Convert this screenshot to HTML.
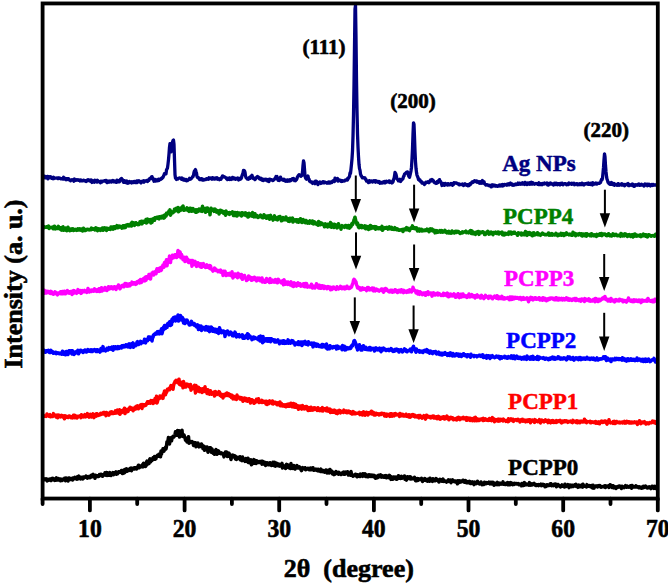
<!DOCTYPE html>
<html><head><meta charset="utf-8"><style>
html,body{margin:0;padding:0;background:#fff;}
body{width:668px;height:585px;overflow:hidden;font-family:"Liberation Serif",serif;}
svg{display:block;}
</style></head><body>
<svg width="668" height="585" viewBox="0 0 668 585">
<rect width="668" height="585" fill="#fff"/>
<defs><clipPath id="c"><rect x="42.6" y="3.45" width="615.2" height="495"/></clipPath></defs>
<g clip-path="url(#c)" fill="none" stroke-linejoin="round" stroke-linecap="round">
<path d="M43.5 479.6L44.0 479.8L44.5 479.4L45.0 478.8L45.5 479.2L46.0 478.8L46.5 479.8L47.0 480.9L47.5 479.3L48.0 479.3L48.5 480.3L49.0 480.2L49.5 480.0L50.0 479.1L50.5 479.9L51.0 480.6L51.5 478.8L52.0 479.7L52.5 478.4L53.0 479.0L53.5 478.5L54.0 479.9L54.5 479.0L55.0 480.4L55.5 480.3L56.0 479.9L56.5 477.9L57.0 479.6L57.5 480.0L58.0 480.1L58.5 478.6L59.0 479.5L59.5 479.0L60.0 479.1L60.5 480.8L61.0 479.1L61.5 479.7L62.0 480.5L62.5 479.2L63.0 479.6L63.5 479.7L64.0 479.6L64.5 478.4L65.0 479.6L65.5 480.6L66.0 478.0L66.5 480.1L67.0 479.4L67.5 478.6L68.0 481.0L68.5 479.8L69.0 478.0L69.5 479.1L70.0 479.5L70.5 478.7L71.0 479.5L71.5 478.7L72.0 479.3L72.5 480.0L73.0 478.0L73.5 478.8L74.0 478.1L74.5 478.6L75.0 477.3L75.5 477.8L76.0 478.1L76.5 479.1L77.0 479.2L77.5 476.9L78.0 477.3L78.5 478.6L79.0 476.1L79.5 477.5L80.0 477.7L80.5 478.9L81.0 478.4L81.5 477.4L82.0 477.3L82.5 477.3L83.0 478.9L83.5 477.0L84.0 477.1L84.5 477.6L85.0 477.1L85.5 477.0L86.0 476.1L86.5 477.1L87.0 476.6L87.5 478.1L88.0 477.5L88.5 476.8L89.0 477.4L89.5 476.4L90.0 477.7L90.5 476.6L91.0 477.1L91.5 475.3L92.0 476.8L92.5 474.8L93.0 474.4L93.5 476.0L94.0 475.4L94.5 476.4L95.0 478.3L95.5 475.3L96.0 475.4L96.5 476.2L97.0 476.4L97.5 475.7L98.0 475.6L98.5 476.5L99.0 476.2L99.5 474.6L100.0 475.5L100.5 475.6L101.0 474.4L101.5 475.6L102.0 474.5L102.5 476.2L103.0 475.4L103.5 475.2L104.0 474.4L104.5 474.8L105.0 472.9L105.5 473.7L106.0 475.1L106.5 472.5L107.0 475.5L107.5 472.8L108.0 475.2L108.5 473.5L109.0 475.1L109.5 474.4L110.0 472.6L110.5 475.4L111.0 475.5L111.5 473.9L112.0 473.6L112.5 473.6L113.0 472.7L113.5 474.7L114.0 472.9L114.5 473.3L115.0 472.5L115.5 472.5L116.0 471.8L116.5 474.3L117.0 472.7L117.5 473.8L118.0 472.7L118.5 471.9L119.0 472.2L119.5 471.8L120.0 472.3L120.5 471.8L121.0 471.8L121.5 470.5L122.0 471.0L122.5 473.6L123.0 471.0L123.5 470.4L124.0 471.8L124.5 472.8L125.0 469.6L125.5 470.8L126.0 470.2L126.5 468.8L127.0 471.4L127.5 470.4L128.0 470.4L128.5 469.3L129.0 470.5L129.5 469.2L130.0 469.5L130.5 468.3L131.0 468.0L131.5 470.7L132.0 468.5L132.5 469.2L133.0 468.7L133.5 468.1L134.0 467.9L134.5 469.0L135.0 467.8L135.5 467.8L136.0 467.8L136.5 469.0L137.0 468.2L137.5 467.7L138.0 466.3L138.5 465.2L139.0 467.8L139.5 467.6L140.0 466.0L140.5 466.7L141.0 466.8L141.5 466.6L142.0 466.6L142.5 464.7L143.0 466.9L143.5 463.3L144.0 465.7L144.5 465.0L145.0 465.3L145.5 466.4L146.0 465.7L146.5 462.1L147.0 461.2L147.5 464.2L148.0 461.6L148.5 462.6L149.0 463.4L149.5 459.9L150.0 458.9L150.5 461.8L151.0 461.2L151.5 460.5L152.0 460.5L152.5 459.0L153.0 457.8L153.5 459.3L154.0 457.9L154.5 456.6L155.0 459.3L155.5 458.2L156.0 458.5L156.5 456.2L157.0 456.2L157.5 455.3L158.0 455.0L158.5 456.1L159.0 454.2L159.5 455.4L160.0 454.8L160.5 456.8L161.0 451.1L161.5 454.1L162.0 452.0L162.5 451.6L163.0 448.8L163.5 449.8L164.0 451.1L164.5 449.1L165.0 448.7L165.5 447.4L166.0 449.0L166.5 446.3L167.0 441.8L167.5 443.6L168.0 440.5L168.5 437.4L169.0 441.4L169.5 444.0L170.0 441.0L170.5 438.0L171.0 437.7L171.5 440.8L172.0 438.3L172.5 437.4L173.0 436.5L173.5 436.0L174.0 436.9L174.5 435.8L175.0 434.6L175.5 431.7L176.0 434.4L176.5 431.8L177.0 435.2L177.5 430.4L178.0 432.7L178.5 433.1L179.0 430.7L179.5 437.0L180.0 436.8L180.5 433.3L181.0 436.1L181.5 435.6L182.0 430.2L182.5 436.2L183.0 436.0L183.5 436.7L184.0 434.9L184.5 436.8L185.0 437.4L185.5 440.3L186.0 439.1L186.5 438.8L187.0 442.0L187.5 438.4L188.0 439.0L188.5 436.7L189.0 443.2L189.5 442.4L190.0 442.6L190.5 442.4L191.0 441.7L191.5 442.1L192.0 441.6L192.5 441.9L193.0 442.7L193.5 445.5L194.0 444.1L194.5 443.2L195.0 442.6L195.5 442.7L196.0 446.8L196.5 445.2L197.0 444.6L197.5 444.1L198.0 443.1L198.5 445.1L199.0 446.9L199.5 445.0L200.0 445.5L200.5 445.7L201.0 446.5L201.5 443.9L202.0 446.3L202.5 445.5L203.0 448.6L203.5 446.0L204.0 448.5L204.5 450.2L205.0 447.4L205.5 447.1L206.0 448.5L206.5 448.4L207.0 447.0L207.5 449.5L208.0 452.2L208.5 448.7L209.0 449.0L209.5 447.8L210.0 450.2L210.5 447.8L211.0 448.3L211.5 452.2L212.0 448.9L212.5 452.3L213.0 453.1L213.5 451.3L214.0 451.9L214.5 454.3L215.0 451.1L215.5 450.6L216.0 449.6L216.5 451.9L217.0 454.3L217.5 453.6L218.0 450.8L218.5 451.1L219.0 451.8L219.5 453.2L220.0 452.6L220.5 453.4L221.0 453.7L221.5 452.9L222.0 453.4L222.5 454.0L223.0 453.7L223.5 454.7L224.0 456.9L224.5 455.1L225.0 454.5L225.5 452.0L226.0 455.3L226.5 452.0L227.0 452.9L227.5 456.4L228.0 456.3L228.5 455.2L229.0 453.1L229.5 455.2L230.0 454.9L230.5 457.0L231.0 459.5L231.5 456.7L232.0 455.4L232.5 455.0L233.0 456.7L233.5 456.7L234.0 455.5L234.5 457.4L235.0 455.8L235.5 459.1L236.0 459.2L236.5 459.4L237.0 457.3L237.5 458.9L238.0 458.1L238.5 457.9L239.0 458.1L239.5 456.9L240.0 456.8L240.5 460.0L241.0 458.8L241.5 459.4L242.0 460.6L242.5 457.0L243.0 458.4L243.5 459.9L244.0 460.3L244.5 459.4L245.0 461.4L245.5 460.4L246.0 458.6L246.5 459.1L247.0 461.6L247.5 461.2L248.0 458.2L248.5 462.6L249.0 461.7L249.5 462.8L250.0 460.6L250.5 460.9L251.0 459.8L251.5 464.8L252.0 461.3L252.5 463.7L253.0 460.8L253.5 462.0L254.0 459.6L254.5 461.4L255.0 463.3L255.5 460.4L256.0 463.6L256.5 462.7L257.0 460.9L257.5 461.7L258.0 461.9L258.5 462.5L259.0 461.9L259.5 461.6L260.0 462.4L260.5 461.5L261.0 461.3L261.5 462.9L262.0 464.2L262.5 461.2L263.0 463.2L263.5 462.5L264.0 462.1L264.5 464.5L265.0 462.8L265.5 465.5L266.0 462.6L266.5 464.2L267.0 463.4L267.5 462.8L268.0 464.6L268.5 463.7L269.0 464.8L269.5 464.0L270.0 462.7L270.5 464.1L271.0 464.3L271.5 465.5L272.0 463.2L272.5 464.4L273.0 462.3L273.5 465.4L274.0 463.3L274.5 462.4L275.0 464.7L275.5 466.2L276.0 463.0L276.5 463.6L277.0 464.1L277.5 463.7L278.0 465.6L278.5 464.2L279.0 464.4L279.5 466.1L280.0 464.5L280.5 466.0L281.0 464.4L281.5 464.1L282.0 463.4L282.5 468.0L283.0 465.4L283.5 466.2L284.0 465.9L284.5 466.2L285.0 466.2L285.5 468.5L286.0 465.0L286.5 464.4L287.0 465.1L287.5 464.8L288.0 467.4L288.5 467.6L289.0 465.5L289.5 465.1L290.0 466.4L290.5 468.5L291.0 463.6L291.5 467.6L292.0 465.8L292.5 468.4L293.0 465.9L293.5 467.0L294.0 465.6L294.5 466.3L295.0 469.1L295.5 468.5L296.0 467.2L296.5 466.7L297.0 465.6L297.5 467.4L298.0 467.9L298.5 467.9L299.0 468.0L299.5 466.8L300.0 468.1L300.5 468.2L301.0 469.8L301.5 470.6L302.0 468.3L302.5 467.7L303.0 468.6L303.5 468.0L304.0 467.9L304.5 468.8L305.0 467.7L305.5 469.7L306.0 468.9L306.5 469.4L307.0 469.0L307.5 468.4L308.0 468.3L308.5 469.1L309.0 468.9L309.5 469.8L310.0 469.6L310.5 468.1L311.0 469.8L311.5 468.3L312.0 469.2L312.5 469.6L313.0 467.7L313.5 470.1L314.0 470.3L314.5 470.0L315.0 469.7L315.5 469.9L316.0 469.2L316.5 470.1L317.0 469.8L317.5 470.6L318.0 469.2L318.5 470.9L319.0 470.8L319.5 470.6L320.0 470.3L320.5 471.5L321.0 469.1L321.5 471.5L322.0 471.3L322.5 471.4L323.0 471.6L323.5 470.5L324.0 471.0L324.5 472.1L325.0 471.9L325.5 471.8L326.0 470.0L326.5 472.3L327.0 473.0L327.5 472.9L328.0 472.1L328.5 470.3L329.0 473.0L329.5 471.9L330.0 469.5L330.5 472.6L331.0 470.7L331.5 471.0L332.0 471.8L332.5 473.9L333.0 472.2L333.5 472.9L334.0 474.6L334.5 474.4L335.0 472.7L335.5 472.6L336.0 471.6L336.5 472.3L337.0 473.5L337.5 473.5L338.0 473.2L338.5 474.2L339.0 472.4L339.5 473.2L340.0 474.1L340.5 474.0L341.0 474.5L341.5 473.9L342.0 473.2L342.5 474.0L343.0 472.6L343.5 472.0L344.0 474.3L344.5 473.7L345.0 474.1L345.5 472.1L346.0 473.5L346.5 473.3L347.0 473.1L347.5 471.7L348.0 473.7L348.5 475.0L349.0 474.6L349.5 473.6L350.0 474.2L350.5 475.1L351.0 471.5L351.5 474.2L352.0 475.0L352.5 475.1L353.0 476.2L353.5 475.7L354.0 474.9L354.5 474.9L355.0 475.5L355.5 474.2L356.0 474.7L356.5 475.7L357.0 476.8L357.5 474.7L358.0 474.9L358.5 475.1L359.0 476.3L359.5 475.0L360.0 476.5L360.5 474.1L361.0 475.0L361.5 475.0L362.0 476.0L362.5 476.3L363.0 473.8L363.5 474.4L364.0 475.7L364.5 474.8L365.0 473.9L365.5 476.5L366.0 476.0L366.5 476.0L367.0 475.1L367.5 476.6L368.0 475.4L368.5 476.7L369.0 474.8L369.5 474.9L370.0 476.0L370.5 475.1L371.0 476.5L371.5 476.1L372.0 475.0L372.5 476.0L373.0 475.6L373.5 476.8L374.0 475.4L374.5 475.6L375.0 477.2L375.5 478.3L376.0 478.0L376.5 476.2L377.0 476.4L377.5 477.7L378.0 476.1L378.5 475.3L379.0 476.4L379.5 476.7L380.0 475.5L380.5 474.8L381.0 475.0L381.5 477.1L382.0 475.7L382.5 476.3L383.0 476.7L383.5 477.1L384.0 476.2L384.5 477.1L385.0 475.8L385.5 476.3L386.0 475.7L386.5 477.8L387.0 476.7L387.5 476.1L388.0 476.5L388.5 476.6L389.0 477.6L389.5 475.4L390.0 476.0L390.5 476.6L391.0 479.4L391.5 478.0L392.0 477.0L392.5 477.8L393.0 479.1L393.5 477.0L394.0 476.9L394.5 478.5L395.0 477.8L395.5 478.0L396.0 477.0L396.5 479.3L397.0 479.1L397.5 478.1L398.0 478.2L398.5 475.7L399.0 478.3L399.5 477.5L400.0 478.2L400.5 478.4L401.0 477.5L401.5 476.3L402.0 478.3L402.5 477.3L403.0 477.7L403.5 477.5L404.0 477.8L404.5 476.0L405.0 479.3L405.5 478.4L406.0 479.3L406.5 480.1L407.0 478.3L407.5 476.7L408.0 477.6L408.5 477.3L409.0 478.0L409.5 478.6L410.0 476.7L410.5 478.9L411.0 477.2L411.5 478.9L412.0 478.6L412.5 478.5L413.0 478.7L413.5 478.3L414.0 478.3L414.5 477.4L415.0 478.9L415.5 480.6L416.0 480.8L416.5 480.2L417.0 479.7L417.5 478.5L418.0 480.4L418.5 479.1L419.0 479.1L419.5 479.0L420.0 479.4L420.5 478.9L421.0 479.3L421.5 478.4L422.0 479.1L422.5 481.5L423.0 479.4L423.5 479.3L424.0 480.0L424.5 480.2L425.0 478.6L425.5 479.5L426.0 480.5L426.5 480.0L427.0 479.9L427.5 481.2L428.0 479.2L428.5 480.0L429.0 479.5L429.5 481.3L430.0 478.3L430.5 479.4L431.0 479.6L431.5 480.7L432.0 480.7L432.5 481.4L433.0 478.8L433.5 480.9L434.0 480.0L434.5 479.7L435.0 480.8L435.5 479.6L436.0 478.6L436.5 480.1L437.0 479.2L437.5 479.9L438.0 480.9L438.5 480.8L439.0 482.0L439.5 480.4L440.0 479.3L440.5 480.0L441.0 479.9L441.5 479.7L442.0 481.1L442.5 480.2L443.0 479.1L443.5 481.4L444.0 480.8L444.5 481.2L445.0 481.0L445.5 481.5L446.0 481.0L446.5 482.1L447.0 481.4L447.5 481.4L448.0 481.5L448.5 479.9L449.0 481.0L449.5 481.0L450.0 481.4L450.5 480.1L451.0 482.7L451.5 481.4L452.0 480.3L452.5 479.9L453.0 481.2L453.5 481.4L454.0 480.9L454.5 481.6L455.0 481.0L455.5 482.0L456.0 481.0L456.5 481.6L457.0 482.5L457.5 483.8L458.0 480.8L458.5 481.3L459.0 481.0L459.5 482.4L460.0 480.8L460.5 481.4L461.0 481.8L461.5 481.1L462.0 481.1L462.5 481.5L463.0 480.2L463.5 480.8L464.0 481.7L464.5 482.2L465.0 481.9L465.5 480.6L466.0 481.7L466.5 482.8L467.0 482.6L467.5 482.1L468.0 481.5L468.5 482.8L469.0 481.8L469.5 481.3L470.0 481.7L470.5 483.5L471.0 482.5L471.5 483.3L472.0 482.0L472.5 483.2L473.0 482.0L473.5 482.4L474.0 484.6L474.5 483.2L475.0 482.2L475.5 482.5L476.0 482.9L476.5 483.6L477.0 482.3L477.5 481.3L478.0 482.5L478.5 482.8L479.0 482.9L479.5 483.9L480.0 483.1L480.5 483.5L481.0 482.0L481.5 483.6L482.0 484.6L482.5 483.6L483.0 483.2L483.5 483.1L484.0 484.4L484.5 482.3L485.0 482.9L485.5 483.4L486.0 483.7L486.5 482.7L487.0 483.3L487.5 482.9L488.0 483.2L488.5 483.0L489.0 482.2L489.5 483.2L490.0 483.9L490.5 482.4L491.0 483.0L491.5 483.8L492.0 482.4L492.5 483.4L493.0 482.4L493.5 484.2L494.0 485.2L494.5 484.9L495.0 483.2L495.5 484.0L496.0 483.5L496.5 483.5L497.0 484.6L497.5 482.4L498.0 484.3L498.5 483.4L499.0 484.6L499.5 483.6L500.0 483.0L500.5 483.7L501.0 484.1L501.5 483.6L502.0 483.9L502.5 483.1L503.0 481.9L503.5 484.3L504.0 484.2L504.5 483.7L505.0 483.7L505.5 484.5L506.0 483.3L506.5 483.1L507.0 483.5L507.5 484.6L508.0 482.6L508.5 484.6L509.0 483.2L509.5 482.9L510.0 484.7L510.5 483.7L511.0 482.7L511.5 483.5L512.0 484.5L512.5 484.7L513.0 483.5L513.5 484.1L514.0 484.4L514.5 483.3L515.0 484.1L515.5 483.8L516.0 483.5L516.5 483.5L517.0 484.0L517.5 483.9L518.0 483.5L518.5 483.6L519.0 484.8L519.5 484.1L520.0 484.7L520.5 484.9L521.0 484.5L521.5 485.8L522.0 483.4L522.5 484.7L523.0 483.8L523.5 485.5L524.0 485.4L524.5 482.6L525.0 483.4L525.5 484.7L526.0 484.8L526.5 484.8L527.0 484.1L527.5 484.6L528.0 484.8L528.5 484.2L529.0 485.1L529.5 482.6L530.0 484.8L530.5 483.6L531.0 485.2L531.5 484.3L532.0 483.8L532.5 484.8L533.0 483.8L533.5 483.8L534.0 483.4L534.5 484.6L535.0 485.0L535.5 485.4L536.0 484.6L536.5 485.5L537.0 484.7L537.5 484.7L538.0 485.2L538.5 485.6L539.0 484.6L539.5 484.7L540.0 484.7L540.5 485.0L541.0 484.2L541.5 485.7L542.0 484.7L542.5 485.4L543.0 484.4L543.5 485.3L544.0 485.4L544.5 484.8L545.0 486.7L545.5 485.4L546.0 486.5L546.5 485.9L547.0 484.7L547.5 485.0L548.0 485.6L548.5 485.4L549.0 485.4L549.5 485.1L550.0 484.0L550.5 485.2L551.0 483.7L551.5 485.7L552.0 484.9L552.5 484.9L553.0 485.3L553.5 485.7L554.0 484.4L554.5 484.2L555.0 484.7L555.5 484.0L556.0 484.8L556.5 486.7L557.0 484.7L557.5 486.0L558.0 484.5L558.5 485.8L559.0 485.3L559.5 485.5L560.0 486.0L560.5 486.9L561.0 485.8L561.5 485.7L562.0 484.9L562.5 486.1L563.0 485.5L563.5 486.3L564.0 485.6L564.5 487.0L565.0 484.2L565.5 485.5L566.0 486.4L566.5 485.5L567.0 485.1L567.5 485.5L568.0 484.7L568.5 485.8L569.0 487.6L569.5 486.6L570.0 485.0L570.5 485.2L571.0 485.5L571.5 486.6L572.0 485.2L572.5 485.3L573.0 486.5L573.5 486.5L574.0 485.6L574.5 485.1L575.0 484.7L575.5 485.4L576.0 484.3L576.5 486.5L577.0 485.5L577.5 486.3L578.0 487.3L578.5 486.8L579.0 485.1L579.5 486.6L580.0 486.8L580.5 485.5L581.0 485.3L581.5 485.9L582.0 484.9L582.5 487.1L583.0 484.3L583.5 485.2L584.0 485.9L584.5 485.9L585.0 486.2L585.5 486.3L586.0 486.0L586.5 487.0L587.0 484.6L587.5 486.1L588.0 485.6L588.5 486.3L589.0 486.3L589.5 485.5L590.0 485.7L590.5 486.8L591.0 486.5L591.5 485.7L592.0 487.7L592.5 487.9L593.0 485.2L593.5 486.5L594.0 488.1L594.5 486.8L595.0 486.4L595.5 486.1L596.0 485.9L596.5 486.2L597.0 485.9L597.5 486.9L598.0 486.1L598.5 486.0L599.0 485.5L599.5 486.3L600.0 485.7L600.5 486.3L601.0 487.2L601.5 486.7L602.0 486.8L602.5 486.7L603.0 486.5L603.5 486.4L604.0 486.2L604.5 487.0L605.0 485.7L605.5 487.5L606.0 486.5L606.5 486.0L607.0 486.2L607.5 486.0L608.0 486.7L608.5 486.0L609.0 487.4L609.5 486.0L610.0 484.9L610.5 486.1L611.0 485.2L611.5 486.6L612.0 487.4L612.5 487.1L613.0 485.7L613.5 486.1L614.0 487.9L614.5 486.9L615.0 486.7L615.5 487.5L616.0 488.5L616.5 487.6L617.0 486.8L617.5 487.0L618.0 487.2L618.5 486.3L619.0 486.0L619.5 486.8L620.0 486.1L620.5 486.8L621.0 486.9L621.5 488.5L622.0 486.2L622.5 486.7L623.0 486.7L623.5 487.2L624.0 487.6L624.5 486.5L625.0 486.3L625.5 485.7L626.0 486.2L626.5 487.3L627.0 487.0L627.5 486.2L628.0 486.7L628.5 487.0L629.0 487.3L629.5 486.6L630.0 486.8L630.5 485.7L631.0 486.2L631.5 488.2L632.0 485.5L632.5 486.8L633.0 487.2L633.5 486.8L634.0 486.5L634.5 487.0L635.0 487.1L635.5 487.0L636.0 485.8L636.5 487.0L637.0 486.5L637.5 486.7L638.0 487.3L638.5 487.6L639.0 487.8L639.5 486.8L640.0 487.8L640.5 488.0L641.0 488.0L641.5 488.2L642.0 487.1L642.5 487.1L643.0 487.8L643.5 486.3L644.0 487.4L644.5 486.9L645.0 487.0L645.5 486.1L646.0 486.7L646.5 487.3L647.0 487.9L647.5 488.0L648.0 487.3L648.5 487.2L649.0 486.8L649.5 487.7L650.0 487.2L650.5 487.8L651.0 488.6L651.5 487.4L652.0 486.4L652.5 486.8L653.0 486.4L653.5 486.6L654.0 488.4L654.5 487.6L655.0 486.4L655.5 487.9L656.0 488.4L656.5 487.2L657.0 487.0L657.5 487.2" stroke="#000000" stroke-width="3.5"/>
<path d="M43.5 415.4L44.0 415.8L44.5 416.3L45.0 416.3L45.5 416.3L46.0 416.5L46.5 415.9L47.0 414.0L47.5 415.3L48.0 415.7L48.5 415.1L49.0 416.3L49.5 415.2L50.0 414.7L50.5 416.8L51.0 416.2L51.5 415.8L52.0 416.5L52.5 416.6L53.0 416.0L53.5 413.6L54.0 415.2L54.5 415.4L55.0 415.0L55.5 416.0L56.0 416.9L56.5 415.5L57.0 415.0L57.5 417.8L58.0 415.6L58.5 415.0L59.0 416.3L59.5 416.5L60.0 415.5L60.5 416.9L61.0 415.8L61.5 415.4L62.0 416.4L62.5 417.0L63.0 415.8L63.5 416.6L64.0 416.3L64.5 418.8L65.0 415.8L65.5 417.6L66.0 416.4L66.5 416.3L67.0 417.0L67.5 417.2L68.0 417.5L68.5 416.7L69.0 415.9L69.5 416.0L70.0 416.9L70.5 417.0L71.0 417.7L71.5 416.8L72.0 417.4L72.5 417.8L73.0 416.6L73.5 415.2L74.0 415.5L74.5 415.3L75.0 417.8L75.5 415.7L76.0 417.5L76.5 417.0L77.0 417.9L77.5 417.3L78.0 416.3L78.5 416.2L79.0 416.4L79.5 416.4L80.0 415.8L80.5 416.2L81.0 417.6L81.5 414.7L82.0 416.4L82.5 415.3L83.0 416.3L83.5 416.8L84.0 416.0L84.5 416.7L85.0 414.6L85.5 416.9L86.0 415.4L86.5 416.4L87.0 416.0L87.5 413.6L88.0 415.1L88.5 415.9L89.0 417.1L89.5 415.9L90.0 415.8L90.5 414.3L91.0 416.8L91.5 417.0L92.0 415.4L92.5 415.2L93.0 413.9L93.5 416.0L94.0 417.6L94.5 415.8L95.0 416.2L95.5 415.5L96.0 414.1L96.5 416.1L97.0 413.8L97.5 414.7L98.0 415.1L98.5 415.5L99.0 415.1L99.5 415.0L100.0 413.9L100.5 413.4L101.0 414.5L101.5 413.8L102.0 413.2L102.5 413.2L103.0 413.8L103.5 412.5L104.0 412.9L104.5 412.6L105.0 414.2L105.5 414.3L106.0 415.7L106.5 412.5L107.0 413.2L107.5 414.6L108.0 413.5L108.5 413.3L109.0 415.1L109.5 413.2L110.0 412.4L110.5 412.1L111.0 413.6L111.5 413.5L112.0 411.9L112.5 412.2L113.0 413.5L113.5 413.5L114.0 412.2L114.5 413.3L115.0 413.2L115.5 410.9L116.0 412.2L116.5 412.8L117.0 411.7L117.5 410.1L118.0 411.8L118.5 412.7L119.0 413.4L119.5 409.7L120.0 414.3L120.5 410.5L121.0 412.5L121.5 412.7L122.0 412.3L122.5 411.4L123.0 410.0L123.5 411.7L124.0 410.2L124.5 408.3L125.0 413.6L125.5 411.3L126.0 412.3L126.5 409.4L127.0 411.7L127.5 411.7L128.0 411.5L128.5 409.8L129.0 408.5L129.5 409.4L130.0 407.2L130.5 407.5L131.0 409.3L131.5 408.0L132.0 408.7L132.5 408.7L133.0 410.7L133.5 409.9L134.0 408.3L134.5 409.5L135.0 407.3L135.5 407.6L136.0 408.8L136.5 406.3L137.0 407.2L137.5 405.9L138.0 407.3L138.5 408.8L139.0 406.0L139.5 406.9L140.0 405.5L140.5 405.0L141.0 404.7L141.5 407.6L142.0 408.4L142.5 406.2L143.0 404.6L143.5 406.1L144.0 404.7L144.5 405.8L145.0 405.1L145.5 404.9L146.0 405.1L146.5 403.6L147.0 403.6L147.5 401.8L148.0 403.1L148.5 401.8L149.0 403.1L149.5 401.9L150.0 402.9L150.5 403.1L151.0 400.6L151.5 401.1L152.0 400.7L152.5 402.6L153.0 403.5L153.5 402.2L154.0 400.5L154.5 402.6L155.0 398.6L155.5 402.2L156.0 399.2L156.5 396.3L157.0 403.0L157.5 401.4L158.0 397.8L158.5 399.1L159.0 398.3L159.5 398.4L160.0 395.9L160.5 396.6L161.0 397.7L161.5 396.9L162.0 397.8L162.5 395.8L163.0 398.4L163.5 393.7L164.0 394.6L164.5 391.0L165.0 391.4L165.5 394.7L166.0 390.9L166.5 392.5L167.0 391.1L167.5 389.2L168.0 389.7L168.5 388.9L169.0 388.4L169.5 389.8L170.0 389.1L170.5 386.6L171.0 385.5L171.5 386.9L172.0 385.7L172.5 387.0L173.0 389.2L173.5 385.7L174.0 383.8L174.5 383.0L175.0 381.4L175.5 380.9L176.0 380.3L176.5 381.0L177.0 380.7L177.5 382.6L178.0 380.5L178.5 380.9L179.0 379.2L179.5 384.3L180.0 382.5L180.5 385.0L181.0 383.5L181.5 385.0L182.0 382.3L182.5 384.2L183.0 387.8L183.5 381.5L184.0 385.8L184.5 386.9L185.0 385.1L185.5 385.9L186.0 387.0L186.5 384.1L187.0 386.1L187.5 384.3L188.0 384.8L188.5 385.1L189.0 386.1L189.5 386.8L190.0 387.4L190.5 384.5L191.0 390.2L191.5 389.0L192.0 388.4L192.5 386.8L193.0 387.4L193.5 388.6L194.0 388.5L194.5 385.2L195.0 389.3L195.5 392.9L196.0 385.4L196.5 390.1L197.0 389.2L197.5 388.6L198.0 391.1L198.5 387.2L199.0 389.4L199.5 391.6L200.0 389.1L200.5 388.9L201.0 389.9L201.5 389.2L202.0 392.4L202.5 388.7L203.0 391.6L203.5 388.4L204.0 391.5L204.5 390.5L205.0 386.8L205.5 390.9L206.0 389.4L206.5 390.4L207.0 393.6L207.5 389.7L208.0 389.9L208.5 393.8L209.0 391.9L209.5 394.2L210.0 392.5L210.5 390.8L211.0 392.2L211.5 394.2L212.0 393.9L212.5 392.6L213.0 392.8L213.5 392.7L214.0 392.1L214.5 395.9L215.0 393.2L215.5 391.6L216.0 392.7L216.5 394.6L217.0 394.5L217.5 393.5L218.0 392.8L218.5 393.9L219.0 391.6L219.5 392.2L220.0 395.4L220.5 393.6L221.0 394.9L221.5 396.3L222.0 395.5L222.5 394.7L223.0 397.9L223.5 395.9L224.0 394.5L224.5 396.1L225.0 395.8L225.5 394.1L226.0 395.5L226.5 395.3L227.0 392.9L227.5 395.5L228.0 395.5L228.5 395.4L229.0 393.8L229.5 395.7L230.0 396.3L230.5 396.6L231.0 395.0L231.5 397.6L232.0 395.2L232.5 396.7L233.0 398.9L233.5 396.3L234.0 396.6L234.5 398.9L235.0 397.1L235.5 397.3L236.0 398.1L236.5 399.4L237.0 395.1L237.5 397.0L238.0 396.9L238.5 396.9L239.0 397.3L239.5 397.4L240.0 399.0L240.5 397.5L241.0 398.9L241.5 399.4L242.0 398.0L242.5 399.2L243.0 401.3L243.5 399.6L244.0 398.4L244.5 399.2L245.0 398.2L245.5 399.8L246.0 400.7L246.5 398.6L247.0 399.5L247.5 401.3L248.0 399.2L248.5 400.2L249.0 398.7L249.5 399.1L250.0 399.5L250.5 403.0L251.0 399.8L251.5 399.7L252.0 399.8L252.5 400.3L253.0 401.4L253.5 400.9L254.0 403.3L254.5 401.1L255.0 402.7L255.5 401.3L256.0 401.8L256.5 399.3L257.0 401.0L257.5 401.2L258.0 401.0L258.5 398.8L259.0 402.6L259.5 401.1L260.0 401.1L260.5 401.4L261.0 401.5L261.5 402.3L262.0 400.4L262.5 400.8L263.0 402.4L263.5 402.3L264.0 401.7L264.5 401.6L265.0 401.3L265.5 402.3L266.0 403.9L266.5 401.3L267.0 404.5L267.5 403.7L268.0 402.2L268.5 403.8L269.0 401.2L269.5 400.9L270.0 401.5L270.5 402.6L271.0 402.8L271.5 402.7L272.0 403.5L272.5 400.9L273.0 404.1L273.5 401.9L274.0 402.8L274.5 403.2L275.0 402.4L275.5 402.2L276.0 402.7L276.5 403.9L277.0 404.7L277.5 404.7L278.0 402.9L278.5 403.2L279.0 403.1L279.5 404.8L280.0 402.0L280.5 405.8L281.0 403.9L281.5 403.6L282.0 404.9L282.5 405.8L283.0 405.1L283.5 405.9L284.0 404.9L284.5 406.3L285.0 406.3L285.5 404.9L286.0 406.7L286.5 405.3L287.0 405.3L287.5 404.2L288.0 405.0L288.5 406.3L289.0 404.0L289.5 406.3L290.0 406.0L290.5 406.0L291.0 403.3L291.5 405.7L292.0 406.6L292.5 405.1L293.0 406.1L293.5 403.4L294.0 406.9L294.5 405.5L295.0 407.3L295.5 404.3L296.0 407.2L296.5 406.3L297.0 407.5L297.5 405.6L298.0 406.0L298.5 409.3L299.0 406.0L299.5 406.2L300.0 406.7L300.5 406.0L301.0 408.4L301.5 409.1L302.0 406.5L302.5 405.5L303.0 408.7L303.5 408.7L304.0 408.5L304.5 408.9L305.0 406.8L305.5 407.6L306.0 406.4L306.5 406.4L307.0 409.1L307.5 407.4L308.0 410.6L308.5 408.3L309.0 407.6L309.5 409.2L310.0 410.3L310.5 409.0L311.0 407.3L311.5 409.0L312.0 410.1L312.5 408.2L313.0 408.0L313.5 409.9L314.0 409.0L314.5 407.8L315.0 408.6L315.5 408.3L316.0 409.4L316.5 409.3L317.0 410.4L317.5 410.0L318.0 407.7L318.5 409.8L319.0 410.4L319.5 410.0L320.0 410.7L320.5 409.1L321.0 408.7L321.5 410.7L322.0 408.7L322.5 407.7L323.0 411.0L323.5 409.2L324.0 409.7L324.5 408.7L325.0 408.8L325.5 409.0L326.0 409.9L326.5 410.7L327.0 408.0L327.5 411.1L328.0 409.2L328.5 409.4L329.0 411.2L329.5 410.5L330.0 409.1L330.5 412.5L331.0 409.9L331.5 411.0L332.0 411.0L332.5 412.3L333.0 410.5L333.5 412.0L334.0 410.3L334.5 412.2L335.0 410.4L335.5 410.8L336.0 413.1L336.5 411.6L337.0 411.4L337.5 413.6L338.0 411.8L338.5 410.7L339.0 412.2L339.5 410.4L340.0 412.7L340.5 412.9L341.0 411.2L341.5 411.2L342.0 412.0L342.5 411.9L343.0 411.0L343.5 412.5L344.0 410.1L344.5 411.7L345.0 411.7L345.5 411.9L346.0 412.5L346.5 411.0L347.0 412.8L347.5 412.1L348.0 411.7L348.5 411.0L349.0 411.2L349.5 412.7L350.0 411.5L350.5 412.5L351.0 413.5L351.5 413.5L352.0 414.0L352.5 412.3L353.0 411.5L353.5 413.6L354.0 412.9L354.5 413.7L355.0 412.7L355.5 413.8L356.0 413.5L356.5 413.4L357.0 413.3L357.5 413.2L358.0 413.0L358.5 413.1L359.0 413.8L359.5 412.4L360.0 414.6L360.5 412.9L361.0 413.9L361.5 412.9L362.0 412.8L362.5 415.0L363.0 412.8L363.5 411.9L364.0 412.5L364.5 412.9L365.0 415.2L365.5 413.4L366.0 414.1L366.5 412.3L367.0 413.6L367.5 413.9L368.0 415.0L368.5 412.7L369.0 413.9L369.5 413.7L370.0 412.5L370.5 413.4L371.0 413.2L371.5 411.3L372.0 414.1L372.5 414.1L373.0 413.2L373.5 412.4L374.0 415.0L374.5 413.9L375.0 414.6L375.5 415.0L376.0 413.3L376.5 414.5L377.0 413.6L377.5 413.8L378.0 413.8L378.5 413.9L379.0 414.9L379.5 414.0L380.0 413.8L380.5 413.7L381.0 414.3L381.5 413.2L382.0 413.6L382.5 414.0L383.0 413.6L383.5 414.0L384.0 413.6L384.5 416.0L385.0 415.4L385.5 414.6L386.0 414.2L386.5 416.3L387.0 414.6L387.5 414.2L388.0 414.6L388.5 414.7L389.0 415.7L389.5 414.4L390.0 416.4L390.5 413.7L391.0 415.2L391.5 413.7L392.0 416.2L392.5 414.3L393.0 414.6L393.5 415.5L394.0 415.9L394.5 413.8L395.0 414.5L395.5 413.6L396.0 415.0L396.5 414.8L397.0 414.6L397.5 414.4L398.0 414.7L398.5 414.4L399.0 415.5L399.5 416.5L400.0 413.4L400.5 415.1L401.0 414.8L401.5 415.7L402.0 414.4L402.5 415.2L403.0 414.4L403.5 416.0L404.0 415.5L404.5 415.3L405.0 415.8L405.5 415.3L406.0 414.2L406.5 416.1L407.0 415.9L407.5 415.5L408.0 416.5L408.5 416.8L409.0 414.8L409.5 415.1L410.0 417.2L410.5 417.1L411.0 415.2L411.5 414.9L412.0 415.4L412.5 415.6L413.0 414.6L413.5 416.1L414.0 415.0L414.5 415.1L415.0 416.9L415.5 415.6L416.0 416.2L416.5 416.8L417.0 417.0L417.5 416.0L418.0 416.4L418.5 415.7L419.0 417.9L419.5 417.0L420.0 415.5L420.5 416.5L421.0 417.2L421.5 417.0L422.0 418.2L422.5 417.8L423.0 416.2L423.5 416.6L424.0 415.7L424.5 417.0L425.0 417.0L425.5 419.1L426.0 417.0L426.5 415.2L427.0 416.4L427.5 417.1L428.0 416.0L428.5 416.3L429.0 416.8L429.5 417.4L430.0 417.0L430.5 416.5L431.0 417.9L431.5 416.8L432.0 416.9L432.5 416.2L433.0 416.7L433.5 417.9L434.0 416.1L434.5 417.4L435.0 418.1L435.5 417.2L436.0 417.8L436.5 416.7L437.0 418.7L437.5 418.6L438.0 417.9L438.5 416.3L439.0 416.9L439.5 418.6L440.0 419.2L440.5 418.0L441.0 418.8L441.5 417.3L442.0 417.7L442.5 417.9L443.0 418.2L443.5 416.7L444.0 418.7L444.5 419.0L445.0 417.0L445.5 416.9L446.0 418.3L446.5 417.5L447.0 416.1L447.5 418.7L448.0 418.2L448.5 417.7L449.0 419.8L449.5 418.3L450.0 417.6L450.5 418.3L451.0 417.4L451.5 417.6L452.0 418.6L452.5 417.8L453.0 417.9L453.5 419.7L454.0 419.0L454.5 419.0L455.0 418.8L455.5 418.8L456.0 419.6L456.5 418.4L457.0 419.9L457.5 417.7L458.0 418.3L458.5 417.4L459.0 418.2L459.5 419.0L460.0 419.7L460.5 418.0L461.0 418.6L461.5 418.3L462.0 418.0L462.5 417.7L463.0 418.7L463.5 417.3L464.0 418.8L464.5 418.7L465.0 418.2L465.5 418.0L466.0 417.7L466.5 420.3L467.0 417.8L467.5 420.1L468.0 419.3L468.5 418.6L469.0 418.0L469.5 419.7L470.0 420.3L470.5 418.2L471.0 418.7L471.5 419.8L472.0 419.3L472.5 420.6L473.0 418.6L473.5 419.5L474.0 418.1L474.5 420.8L475.0 418.6L475.5 417.4L476.0 419.1L476.5 419.1L477.0 420.7L477.5 419.0L478.0 419.2L478.5 419.7L479.0 420.5L479.5 419.3L480.0 420.1L480.5 419.8L481.0 419.1L481.5 419.4L482.0 419.4L482.5 418.7L483.0 420.4L483.5 418.4L484.0 420.4L484.5 420.2L485.0 419.4L485.5 418.9L486.0 419.4L486.5 419.9L487.0 420.2L487.5 419.8L488.0 420.4L488.5 419.2L489.0 419.8L489.5 418.5L490.0 420.3L490.5 419.8L491.0 419.4L491.5 420.6L492.0 420.3L492.5 417.6L493.0 419.8L493.5 418.7L494.0 420.6L494.5 421.7L495.0 419.4L495.5 419.9L496.0 419.7L496.5 420.1L497.0 420.4L497.5 420.9L498.0 419.2L498.5 421.1L499.0 419.2L499.5 420.2L500.0 420.9L500.5 420.5L501.0 419.3L501.5 419.5L502.0 419.7L502.5 420.0L503.0 420.9L503.5 419.1L504.0 420.4L504.5 420.6L505.0 420.5L505.5 420.5L506.0 421.3L506.5 420.5L507.0 420.8L507.5 420.6L508.0 421.6L508.5 418.8L509.0 421.2L509.5 420.0L510.0 420.0L510.5 419.5L511.0 418.9L511.5 420.0L512.0 419.8L512.5 420.7L513.0 419.2L513.5 421.4L514.0 420.6L514.5 420.2L515.0 419.9L515.5 419.8L516.0 419.6L516.5 420.0L517.0 420.5L517.5 420.3L518.0 419.4L518.5 420.3L519.0 419.8L519.5 420.6L520.0 421.9L520.5 421.0L521.0 420.3L521.5 419.4L522.0 419.5L522.5 419.3L523.0 421.2L523.5 420.1L524.0 420.7L524.5 420.2L525.0 420.8L525.5 421.8L526.0 420.2L526.5 420.5L527.0 420.1L527.5 421.4L528.0 420.0L528.5 419.9L529.0 419.8L529.5 419.8L530.0 421.2L530.5 422.8L531.0 420.1L531.5 421.6L532.0 421.1L532.5 420.1L533.0 420.7L533.5 420.8L534.0 420.4L534.5 422.4L535.0 419.6L535.5 421.3L536.0 421.2L536.5 420.6L537.0 421.1L537.5 421.7L538.0 421.1L538.5 421.4L539.0 421.6L539.5 419.6L540.0 422.2L540.5 422.8L541.0 421.8L541.5 421.8L542.0 420.1L542.5 421.0L543.0 420.5L543.5 420.7L544.0 421.9L544.5 420.6L545.0 421.1L545.5 419.8L546.0 421.1L546.5 421.3L547.0 420.7L547.5 420.7L548.0 422.6L548.5 420.3L549.0 420.5L549.5 420.6L550.0 422.1L550.5 422.8L551.0 421.5L551.5 420.8L552.0 421.0L552.5 422.1L553.0 420.6L553.5 422.4L554.0 422.4L554.5 421.4L555.0 421.8L555.5 421.9L556.0 422.5L556.5 420.6L557.0 422.2L557.5 421.1L558.0 420.8L558.5 421.5L559.0 421.3L559.5 420.7L560.0 420.3L560.5 420.8L561.0 422.5L561.5 422.9L562.0 421.9L562.5 422.3L563.0 421.1L563.5 421.4L564.0 421.7L564.5 420.7L565.0 420.8L565.5 421.6L566.0 421.3L566.5 420.8L567.0 421.8L567.5 421.4L568.0 422.3L568.5 421.6L569.0 421.4L569.5 421.7L570.0 421.5L570.5 421.1L571.0 421.3L571.5 422.2L572.0 422.1L572.5 422.6L573.0 420.4L573.5 421.4L574.0 421.4L574.5 421.8L575.0 421.4L575.5 421.3L576.0 422.3L576.5 421.9L577.0 420.9L577.5 422.7L578.0 422.5L578.5 421.4L579.0 422.4L579.5 421.3L580.0 422.6L580.5 421.7L581.0 421.2L581.5 421.6L582.0 421.3L582.5 422.0L583.0 422.0L583.5 421.9L584.0 421.5L584.5 419.2L585.0 422.0L585.5 420.5L586.0 422.1L586.5 422.7L587.0 422.1L587.5 421.6L588.0 421.8L588.5 421.8L589.0 421.6L589.5 421.5L590.0 421.3L590.5 422.8L591.0 422.0L591.5 422.7L592.0 421.8L592.5 422.1L593.0 421.9L593.5 422.3L594.0 422.6L594.5 422.2L595.0 421.6L595.5 421.5L596.0 423.2L596.5 421.9L597.0 421.9L597.5 423.1L598.0 422.9L598.5 422.5L599.0 421.8L599.5 423.8L600.0 422.4L600.5 422.5L601.0 422.0L601.5 421.1L602.0 421.2L602.5 422.4L603.0 422.4L603.5 422.0L604.0 421.3L604.5 421.1L605.0 421.9L605.5 421.1L606.0 422.8L606.5 423.0L607.0 424.2L607.5 422.8L608.0 421.8L608.5 421.6L609.0 419.8L609.5 421.8L610.0 422.1L610.5 422.9L611.0 422.7L611.5 422.7L612.0 422.4L612.5 422.8L613.0 423.3L613.5 421.5L614.0 422.0L614.5 421.3L615.0 423.5L615.5 423.2L616.0 422.9L616.5 421.5L617.0 422.5L617.5 422.2L618.0 422.4L618.5 422.2L619.0 422.7L619.5 422.1L620.0 423.0L620.5 422.6L621.0 422.2L621.5 422.3L622.0 422.1L622.5 423.0L623.0 422.2L623.5 422.7L624.0 422.2L624.5 421.4L625.0 423.1L625.5 421.7L626.0 423.0L626.5 422.8L627.0 421.3L627.5 421.8L628.0 422.1L628.5 421.9L629.0 421.7L629.5 423.0L630.0 422.4L630.5 422.8L631.0 422.2L631.5 422.8L632.0 422.0L632.5 422.6L633.0 423.0L633.5 422.6L634.0 422.3L634.5 421.8L635.0 422.7L635.5 422.8L636.0 422.4L636.5 422.1L637.0 423.0L637.5 424.4L638.0 422.4L638.5 422.9L639.0 422.9L639.5 420.8L640.0 422.7L640.5 422.1L641.0 423.6L641.5 422.5L642.0 422.1L642.5 422.5L643.0 422.8L643.5 422.2L644.0 422.6L644.5 421.7L645.0 422.5L645.5 423.2L646.0 424.0L646.5 423.1L647.0 422.8L647.5 423.5L648.0 423.4L648.5 423.8L649.0 423.4L649.5 422.6L650.0 422.8L650.5 422.8L651.0 422.9L651.5 422.8L652.0 422.1L652.5 421.2L653.0 422.2L653.5 421.3L654.0 422.7L654.5 422.7L655.0 421.5L655.5 423.2L656.0 423.3L656.5 422.8L657.0 423.9L657.5 424.0" stroke="#ff0000" stroke-width="3.5"/>
<path d="M43.5 350.0L44.0 352.1L44.5 351.6L45.0 351.7L45.5 352.2L46.0 350.8L46.5 350.9L47.0 350.8L47.5 350.9L48.0 351.6L48.5 350.4L49.0 350.9L49.5 352.4L50.0 351.9L50.5 352.4L51.0 350.4L51.5 351.5L52.0 351.8L52.5 352.4L53.0 351.9L53.5 353.3L54.0 352.5L54.5 352.6L55.0 352.6L55.5 353.3L56.0 352.3L56.5 353.7L57.0 353.1L57.5 352.9L58.0 352.8L58.5 353.3L59.0 353.7L59.5 353.7L60.0 353.2L60.5 353.7L61.0 353.0L61.5 354.1L62.0 353.0L62.5 351.2L63.0 354.2L63.5 353.1L64.0 352.0L64.5 352.8L65.0 352.2L65.5 354.8L66.0 353.4L66.5 351.5L67.0 353.4L67.5 352.5L68.0 354.5L68.5 351.8L69.0 350.7L69.5 352.7L70.0 352.3L70.5 352.2L71.0 350.7L71.5 352.9L72.0 354.0L72.5 350.8L73.0 353.5L73.5 351.9L74.0 354.5L74.5 352.7L75.0 352.1L75.5 353.2L76.0 352.7L76.5 351.6L77.0 352.7L77.5 351.6L78.0 350.3L78.5 353.8L79.0 351.5L79.5 351.2L80.0 352.0L80.5 350.2L81.0 350.4L81.5 351.1L82.0 351.0L82.5 351.5L83.0 352.4L83.5 350.9L84.0 351.7L84.5 351.8L85.0 350.1L85.5 351.3L86.0 350.2L86.5 352.0L87.0 351.3L87.5 350.9L88.0 349.6L88.5 350.9L89.0 350.0L89.5 351.3L90.0 350.5L90.5 349.8L91.0 351.4L91.5 351.2L92.0 349.9L92.5 351.5L93.0 350.1L93.5 350.0L94.0 350.4L94.5 349.5L95.0 349.8L95.5 350.0L96.0 351.6L96.5 351.5L97.0 349.8L97.5 351.5L98.0 349.9L98.5 350.3L99.0 350.7L99.5 350.1L100.0 352.1L100.5 350.0L101.0 348.5L101.5 350.9L102.0 349.2L102.5 349.3L103.0 346.6L103.5 350.4L104.0 350.2L104.5 350.1L105.0 350.3L105.5 350.9L106.0 349.2L106.5 350.1L107.0 348.4L107.5 348.7L108.0 350.0L108.5 349.3L109.0 347.6L109.5 349.2L110.0 348.6L110.5 347.9L111.0 349.1L111.5 348.2L112.0 347.0L112.5 347.4L113.0 350.2L113.5 346.8L114.0 348.5L114.5 348.8L115.0 348.8L115.5 346.8L116.0 347.6L116.5 348.0L117.0 348.6L117.5 347.1L118.0 346.5L118.5 348.6L119.0 348.6L119.5 347.8L120.0 346.7L120.5 347.7L121.0 347.3L121.5 348.0L122.0 345.7L122.5 347.1L123.0 346.7L123.5 345.6L124.0 346.9L124.5 346.6L125.0 346.0L125.5 346.7L126.0 344.7L126.5 346.0L127.0 346.4L127.5 346.1L128.0 346.9L128.5 344.3L129.0 343.9L129.5 345.6L130.0 345.7L130.5 347.4L131.0 345.6L131.5 343.9L132.0 345.6L132.5 343.7L133.0 342.9L133.5 347.2L134.0 344.6L134.5 344.9L135.0 344.6L135.5 345.8L136.0 344.0L136.5 344.9L137.0 342.2L137.5 341.6L138.0 344.6L138.5 344.5L139.0 343.2L139.5 342.7L140.0 342.5L140.5 341.3L141.0 343.7L141.5 342.5L142.0 342.2L142.5 341.8L143.0 342.5L143.5 341.6L144.0 341.7L144.5 339.3L145.0 341.1L145.5 342.9L146.0 339.5L146.5 339.8L147.0 340.8L147.5 340.7L148.0 340.0L148.5 337.0L149.0 339.4L149.5 337.0L150.0 337.1L150.5 338.6L151.0 337.2L151.5 338.3L152.0 341.0L152.5 337.7L153.0 337.3L153.5 334.9L154.0 334.9L154.5 334.1L155.0 334.5L155.5 333.4L156.0 333.7L156.5 334.0L157.0 332.6L157.5 331.7L158.0 331.5L158.5 333.7L159.0 332.8L159.5 333.8L160.0 333.5L160.5 331.1L161.0 332.2L161.5 328.7L162.0 333.7L162.5 331.7L163.0 329.2L163.5 327.3L164.0 329.2L164.5 325.4L165.0 326.6L165.5 328.4L166.0 327.0L166.5 325.6L167.0 327.4L167.5 323.8L168.0 325.4L168.5 323.7L169.0 322.6L169.5 324.2L170.0 321.4L170.5 325.6L171.0 321.0L171.5 324.8L172.0 319.3L172.5 321.7L173.0 318.3L173.5 317.7L174.0 319.9L174.5 320.5L175.0 316.9L175.5 320.9L176.0 317.2L176.5 318.7L177.0 319.0L177.5 319.3L178.0 315.0L178.5 321.0L179.0 319.1L179.5 317.5L180.0 316.6L180.5 315.6L181.0 316.4L181.5 319.9L182.0 318.6L182.5 317.6L183.0 318.9L183.5 322.9L184.0 320.0L184.5 319.9L185.0 323.5L185.5 322.4L186.0 322.1L186.5 321.4L187.0 320.1L187.5 321.1L188.0 322.5L188.5 323.2L189.0 324.4L189.5 324.9L190.0 324.6L190.5 324.7L191.0 322.9L191.5 321.3L192.0 324.0L192.5 323.5L193.0 324.1L193.5 324.8L194.0 323.5L194.5 323.8L195.0 325.6L195.5 326.0L196.0 325.0L196.5 326.9L197.0 325.9L197.5 324.8L198.0 326.6L198.5 329.6L199.0 325.7L199.5 328.7L200.0 329.1L200.5 329.4L201.0 325.9L201.5 330.4L202.0 327.6L202.5 327.1L203.0 327.3L203.5 328.6L204.0 327.9L204.5 327.7L205.0 330.0L205.5 327.1L206.0 326.7L206.5 329.6L207.0 329.5L207.5 330.2L208.0 327.1L208.5 330.4L209.0 329.6L209.5 331.6L210.0 327.3L210.5 329.6L211.0 328.9L211.5 327.1L212.0 328.5L212.5 331.3L213.0 329.1L213.5 328.8L214.0 331.3L214.5 331.6L215.0 331.7L215.5 329.2L216.0 330.4L216.5 332.1L217.0 329.8L217.5 329.8L218.0 332.2L218.5 333.4L219.0 329.6L219.5 327.7L220.0 329.4L220.5 330.2L221.0 331.6L221.5 332.7L222.0 331.8L222.5 331.1L223.0 332.5L223.5 331.0L224.0 332.4L224.5 331.7L225.0 336.5L225.5 334.0L226.0 331.8L226.5 331.7L227.0 332.6L227.5 331.0L228.0 332.4L228.5 332.5L229.0 334.8L229.5 333.1L230.0 332.7L230.5 332.1L231.0 332.4L231.5 334.0L232.0 333.9L232.5 335.8L233.0 333.6L233.5 335.9L234.0 334.9L234.5 334.7L235.0 332.1L235.5 333.2L236.0 336.0L236.5 337.0L237.0 335.5L237.5 336.3L238.0 334.8L238.5 335.0L239.0 334.7L239.5 336.9L240.0 336.1L240.5 335.4L241.0 335.4L241.5 336.6L242.0 336.4L242.5 334.9L243.0 338.3L243.5 336.5L244.0 336.3L244.5 338.2L245.0 337.7L245.5 336.3L246.0 337.2L246.5 335.2L247.0 335.8L247.5 333.8L248.0 338.4L248.5 334.4L249.0 337.8L249.5 336.0L250.0 335.9L250.5 337.0L251.0 337.6L251.5 338.2L252.0 339.7L252.5 338.1L253.0 338.8L253.5 337.0L254.0 338.8L254.5 338.2L255.0 337.5L255.5 338.1L256.0 338.2L256.5 338.6L257.0 339.0L257.5 338.0L258.0 337.8L258.5 339.7L259.0 336.8L259.5 338.2L260.0 341.0L260.5 335.9L261.0 338.4L261.5 340.2L262.0 337.4L262.5 342.7L263.0 336.4L263.5 341.4L264.0 341.6L264.5 340.9L265.0 339.5L265.5 340.3L266.0 338.8L266.5 340.9L267.0 338.7L267.5 339.7L268.0 341.3L268.5 338.8L269.0 339.8L269.5 340.5L270.0 338.7L270.5 341.8L271.0 340.8L271.5 338.7L272.0 340.5L272.5 339.6L273.0 339.8L273.5 340.8L274.0 339.9L274.5 341.9L275.0 340.0L275.5 342.0L276.0 340.9L276.5 342.0L277.0 340.4L277.5 340.5L278.0 339.8L278.5 341.8L279.0 342.3L279.5 343.8L280.0 342.8L280.5 341.7L281.0 341.2L281.5 341.9L282.0 341.5L282.5 343.3L283.0 342.7L283.5 340.7L284.0 340.9L284.5 343.4L285.0 342.2L285.5 341.6L286.0 343.3L286.5 341.5L287.0 341.7L287.5 341.5L288.0 339.9L288.5 343.2L289.0 340.8L289.5 341.6L290.0 341.5L290.5 343.2L291.0 342.3L291.5 342.5L292.0 340.6L292.5 342.5L293.0 340.9L293.5 343.0L294.0 343.1L294.5 342.7L295.0 345.1L295.5 343.5L296.0 343.6L296.5 343.1L297.0 342.8L297.5 344.2L298.0 344.4L298.5 341.7L299.0 344.4L299.5 343.8L300.0 344.4L300.5 343.9L301.0 342.0L301.5 342.1L302.0 345.6L302.5 343.8L303.0 342.0L303.5 344.1L304.0 343.3L304.5 341.7L305.0 341.3L305.5 342.1L306.0 344.2L306.5 343.9L307.0 343.7L307.5 344.4L308.0 344.8L308.5 341.8L309.0 343.9L309.5 343.4L310.0 343.0L310.5 343.8L311.0 344.3L311.5 344.2L312.0 343.0L312.5 344.1L313.0 346.9L313.5 343.7L314.0 343.1L314.5 345.3L315.0 345.7L315.5 345.6L316.0 344.0L316.5 346.3L317.0 344.5L317.5 344.2L318.0 344.8L318.5 345.4L319.0 346.4L319.5 346.3L320.0 345.7L320.5 346.8L321.0 346.0L321.5 346.9L322.0 344.5L322.5 344.4L323.0 346.9L323.5 344.7L324.0 345.9L324.5 346.2L325.0 345.9L325.5 345.9L326.0 347.9L326.5 343.9L327.0 347.5L327.5 349.0L328.0 346.7L328.5 346.7L329.0 347.6L329.5 348.8L330.0 345.7L330.5 347.1L331.0 346.9L331.5 347.7L332.0 347.3L332.5 347.9L333.0 346.8L333.5 347.3L334.0 346.6L334.5 346.7L335.0 347.3L335.5 347.3L336.0 346.2L336.5 349.1L337.0 347.3L337.5 346.1L338.0 348.6L338.5 346.8L339.0 348.1L339.5 347.5L340.0 347.8L340.5 347.8L341.0 347.0L341.5 347.7L342.0 349.7L342.5 345.4L343.0 347.7L343.5 348.1L344.0 346.6L344.5 346.3L345.0 349.9L345.5 347.3L346.0 349.8L346.5 348.2L347.0 347.7L347.5 348.1L348.0 348.2L348.5 348.7L349.0 347.9L349.5 347.5L350.0 347.5L350.5 348.5L351.0 347.8L351.5 345.6L352.0 345.5L352.5 345.9L353.0 344.0L353.5 343.0L354.0 340.8L354.5 340.6L355.0 341.5L355.5 343.4L356.0 343.8L356.5 347.3L357.0 345.8L357.5 349.9L358.0 348.0L358.5 347.8L359.0 347.0L359.5 344.8L360.0 347.7L360.5 348.1L361.0 350.0L361.5 346.7L362.0 350.1L362.5 348.0L363.0 349.0L363.5 345.8L364.0 348.5L364.5 348.1L365.0 349.2L365.5 348.6L366.0 347.4L366.5 349.5L367.0 349.3L367.5 349.2L368.0 349.7L368.5 349.8L369.0 348.7L369.5 347.4L370.0 347.4L370.5 350.1L371.0 349.5L371.5 348.9L372.0 348.4L372.5 348.9L373.0 348.9L373.5 348.6L374.0 348.3L374.5 351.1L375.0 349.2L375.5 348.4L376.0 347.8L376.5 348.4L377.0 349.8L377.5 349.9L378.0 348.9L378.5 349.2L379.0 348.9L379.5 348.2L380.0 350.5L380.5 349.6L381.0 351.7L381.5 348.6L382.0 349.2L382.5 350.2L383.0 349.2L383.5 348.1L384.0 348.5L384.5 349.6L385.0 349.8L385.5 349.4L386.0 350.5L386.5 350.6L387.0 349.9L387.5 349.7L388.0 349.4L388.5 350.2L389.0 350.6L389.5 349.8L390.0 350.2L390.5 349.5L391.0 348.5L391.5 348.9L392.0 350.6L392.5 350.3L393.0 351.4L393.5 350.0L394.0 350.8L394.5 351.2L395.0 351.0L395.5 349.4L396.0 349.9L396.5 350.2L397.0 349.2L397.5 350.6L398.0 351.1L398.5 349.7L399.0 352.1L399.5 349.9L400.0 350.0L400.5 350.0L401.0 349.6L401.5 350.7L402.0 350.3L402.5 351.9L403.0 350.9L403.5 350.8L404.0 350.1L404.5 348.9L405.0 350.2L405.5 349.5L406.0 351.2L406.5 350.2L407.0 351.8L407.5 350.9L408.0 351.0L408.5 350.4L409.0 350.3L409.5 350.6L410.0 350.8L410.5 349.1L411.0 350.0L411.5 351.8L412.0 348.8L412.5 348.2L413.0 347.3L413.5 346.4L414.0 349.3L414.5 348.5L415.0 349.2L415.5 351.1L416.0 352.1L416.5 349.1L417.0 351.1L417.5 350.8L418.0 350.7L418.5 350.9L419.0 350.5L419.5 352.1L420.0 351.2L420.5 351.0L421.0 351.9L421.5 351.6L422.0 351.2L422.5 351.1L423.0 352.5L423.5 351.4L424.0 350.9L424.5 350.3L425.0 350.8L425.5 350.3L426.0 351.4L426.5 351.7L427.0 349.6L427.5 351.6L428.0 352.3L428.5 352.0L429.0 351.0L429.5 353.2L430.0 351.5L430.5 351.1L431.0 351.3L431.5 352.4L432.0 353.3L432.5 353.6L433.0 352.8L433.5 351.7L434.0 352.3L434.5 352.1L435.0 352.8L435.5 351.5L436.0 353.2L436.5 353.8L437.0 353.1L437.5 353.7L438.0 352.5L438.5 352.1L439.0 352.9L439.5 354.5L440.0 354.4L440.5 353.2L441.0 354.7L441.5 353.4L442.0 355.0L442.5 354.2L443.0 353.4L443.5 354.5L444.0 353.2L444.5 353.1L445.0 352.7L445.5 354.2L446.0 354.0L446.5 354.0L447.0 353.8L447.5 355.4L448.0 353.8L448.5 353.6L449.0 355.3L449.5 355.5L450.0 354.7L450.5 352.9L451.0 353.9L451.5 355.0L452.0 354.6L452.5 355.9L453.0 353.5L453.5 355.2L454.0 354.2L454.5 355.9L455.0 354.7L455.5 355.7L456.0 354.3L456.5 353.7L457.0 354.0L457.5 354.5L458.0 354.2L458.5 356.1L459.0 356.2L459.5 355.4L460.0 354.3L460.5 355.1L461.0 354.7L461.5 356.5L462.0 355.6L462.5 355.7L463.0 355.0L463.5 353.7L464.0 354.8L464.5 354.5L465.0 355.7L465.5 355.5L466.0 354.8L466.5 355.2L467.0 356.8L467.5 354.8L468.0 354.8L468.5 355.4L469.0 355.0L469.5 355.3L470.0 356.1L470.5 357.1L471.0 354.3L471.5 355.7L472.0 355.8L472.5 355.7L473.0 355.7L473.5 355.5L474.0 356.7L474.5 355.5L475.0 355.8L475.5 355.9L476.0 356.0L476.5 355.8L477.0 356.8L477.5 356.0L478.0 356.2L478.5 356.0L479.0 355.3L479.5 355.4L480.0 355.3L480.5 356.3L481.0 355.6L481.5 355.3L482.0 356.4L482.5 356.7L483.0 354.9L483.5 357.6L484.0 356.3L484.5 356.2L485.0 357.2L485.5 356.4L486.0 355.9L486.5 358.2L487.0 355.6L487.5 356.4L488.0 357.2L488.5 355.7L489.0 356.4L489.5 356.9L490.0 358.5L490.5 355.9L491.0 356.6L491.5 357.2L492.0 356.7L492.5 355.7L493.0 357.0L493.5 356.8L494.0 357.1L494.5 357.7L495.0 357.6L495.5 357.1L496.0 357.1L496.5 356.0L497.0 356.8L497.5 357.1L498.0 356.6L498.5 357.0L499.0 356.3L499.5 358.2L500.0 358.7L500.5 356.7L501.0 357.3L501.5 356.9L502.0 358.1L502.5 357.4L503.0 357.2L503.5 356.9L504.0 357.2L504.5 356.4L505.0 357.7L505.5 356.6L506.0 357.6L506.5 357.3L507.0 358.1L507.5 357.3L508.0 358.1L508.5 356.6L509.0 357.8L509.5 357.2L510.0 357.5L510.5 357.4L511.0 358.1L511.5 355.9L512.0 357.7L512.5 356.3L513.0 358.4L513.5 356.0L514.0 356.7L514.5 356.2L515.0 358.8L515.5 356.6L516.0 357.7L516.5 357.2L517.0 356.2L517.5 357.4L518.0 358.2L518.5 357.5L519.0 358.4L519.5 357.4L520.0 357.7L520.5 357.4L521.0 358.0L521.5 359.2L522.0 358.1L522.5 358.0L523.0 357.4L523.5 357.3L524.0 359.0L524.5 357.0L525.0 357.2L525.5 357.8L526.0 357.6L526.5 359.4L527.0 356.1L527.5 358.2L528.0 358.5L528.5 357.1L529.0 357.5L529.5 358.3L530.0 359.2L530.5 357.3L531.0 356.8L531.5 358.8L532.0 359.2L532.5 357.8L533.0 356.4L533.5 359.2L534.0 357.9L534.5 358.9L535.0 358.1L535.5 357.8L536.0 357.8L536.5 359.2L537.0 359.2L537.5 356.5L538.0 357.4L538.5 359.5L539.0 357.9L539.5 357.2L540.0 358.2L540.5 358.1L541.0 358.1L541.5 357.9L542.0 358.0L542.5 357.9L543.0 358.5L543.5 357.7L544.0 358.1L544.5 358.2L545.0 359.3L545.5 358.6L546.0 358.2L546.5 358.7L547.0 358.6L547.5 359.2L548.0 358.7L548.5 359.7L549.0 359.4L549.5 358.3L550.0 358.1L550.5 359.1L551.0 358.8L551.5 358.3L552.0 357.3L552.5 357.1L553.0 358.7L553.5 359.0L554.0 359.0L554.5 357.5L555.0 359.2L555.5 358.1L556.0 358.8L556.5 358.8L557.0 357.9L557.5 358.0L558.0 356.9L558.5 357.8L559.0 357.2L559.5 358.8L560.0 358.6L560.5 359.2L561.0 358.8L561.5 358.1L562.0 358.8L562.5 358.3L563.0 359.0L563.5 358.8L564.0 357.8L564.5 358.6L565.0 358.6L565.5 358.3L566.0 359.2L566.5 359.9L567.0 358.3L567.5 358.3L568.0 356.9L568.5 358.5L569.0 358.3L569.5 357.0L570.0 358.8L570.5 359.1L571.0 358.1L571.5 358.4L572.0 357.9L572.5 359.2L573.0 357.5L573.5 358.4L574.0 360.1L574.5 358.7L575.0 359.0L575.5 358.6L576.0 357.8L576.5 358.7L577.0 359.0L577.5 358.0L578.0 359.0L578.5 359.7L579.0 359.5L579.5 357.6L580.0 358.0L580.5 357.6L581.0 359.6L581.5 359.2L582.0 359.3L582.5 358.2L583.0 358.0L583.5 358.9L584.0 358.9L584.5 358.2L585.0 358.9L585.5 359.3L586.0 359.0L586.5 358.1L587.0 357.3L587.5 358.7L588.0 359.0L588.5 358.7L589.0 358.6L589.5 358.4L590.0 359.4L590.5 358.9L591.0 359.0L591.5 358.2L592.0 358.5L592.5 359.1L593.0 358.2L593.5 358.0L594.0 358.7L594.5 359.8L595.0 359.1L595.5 360.0L596.0 358.9L596.5 358.7L597.0 357.9L597.5 358.5L598.0 360.0L598.5 359.2L599.0 359.5L599.5 359.4L600.0 358.8L600.5 358.7L601.0 358.8L601.5 359.1L602.0 358.8L602.5 358.6L603.0 358.0L603.5 356.9L604.0 357.2L604.5 356.8L605.0 358.7L605.5 356.7L606.0 358.4L606.5 360.5L607.0 358.6L607.5 358.1L608.0 359.0L608.5 360.0L609.0 359.0L609.5 359.6L610.0 359.3L610.5 359.0L611.0 361.6L611.5 359.3L612.0 358.9L612.5 359.0L613.0 359.6L613.5 359.7L614.0 359.9L614.5 359.5L615.0 358.4L615.5 359.8L616.0 359.2L616.5 359.2L617.0 358.4L617.5 359.1L618.0 359.0L618.5 359.5L619.0 358.5L619.5 359.6L620.0 359.6L620.5 358.8L621.0 359.1L621.5 359.0L622.0 360.2L622.5 357.8L623.0 359.4L623.5 358.4L624.0 359.3L624.5 360.3L625.0 359.2L625.5 359.8L626.0 359.1L626.5 361.1L627.0 360.4L627.5 360.5L628.0 358.8L628.5 359.0L629.0 360.5L629.5 359.6L630.0 359.6L630.5 360.0L631.0 358.9L631.5 360.3L632.0 359.8L632.5 360.2L633.0 359.4L633.5 360.2L634.0 359.3L634.5 360.5L635.0 360.7L635.5 360.5L636.0 360.3L636.5 360.3L637.0 358.0L637.5 360.5L638.0 359.7L638.5 360.0L639.0 359.7L639.5 359.0L640.0 359.6L640.5 360.4L641.0 361.0L641.5 359.5L642.0 359.4L642.5 361.0L643.0 359.4L643.5 361.5L644.0 360.1L644.5 359.4L645.0 360.7L645.5 361.3L646.0 359.1L646.5 361.2L647.0 359.9L647.5 361.1L648.0 359.8L648.5 359.0L649.0 360.5L649.5 360.8L650.0 361.6L650.5 361.4L651.0 360.7L651.5 360.0L652.0 359.8L652.5 360.0L653.0 359.6L653.5 360.0L654.0 358.4L654.5 360.4L655.0 360.2L655.5 362.0L656.0 360.8L656.5 359.9L657.0 360.7L657.5 359.4" stroke="#0000ff" stroke-width="3.5"/>
<path d="M43.5 291.3L44.0 290.2L44.5 293.2L45.0 292.5L45.5 290.9L46.0 292.0L46.5 292.9L47.0 292.6L47.5 292.5L48.0 291.4L48.5 291.7L49.0 292.4L49.5 293.1L50.0 291.6L50.5 291.4L51.0 293.5L51.5 291.6L52.0 293.5L52.5 292.8L53.0 293.4L53.5 294.2L54.0 293.3L54.5 293.4L55.0 291.9L55.5 292.1L56.0 293.3L56.5 294.1L57.0 294.0L57.5 294.8L58.0 293.0L58.5 292.9L59.0 293.6L59.5 292.8L60.0 292.7L60.5 291.8L61.0 293.7L61.5 291.8L62.0 293.2L62.5 291.5L63.0 293.8L63.5 291.9L64.0 293.5L64.5 291.3L65.0 292.4L65.5 293.8L66.0 292.0L66.5 292.8L67.0 292.2L67.5 290.6L68.0 292.9L68.5 293.0L69.0 291.6L69.5 293.1L70.0 291.8L70.5 291.6L71.0 292.5L71.5 291.9L72.0 294.5L72.5 291.0L73.0 293.1L73.5 293.3L74.0 290.6L74.5 290.8L75.0 292.8L75.5 291.9L76.0 292.6L76.5 293.3L77.0 291.9L77.5 291.2L78.0 289.6L78.5 292.2L79.0 291.1L79.5 292.2L80.0 292.1L80.5 290.6L81.0 293.4L81.5 292.7L82.0 292.5L82.5 290.6L83.0 291.2L83.5 291.0L84.0 291.1L84.5 290.4L85.0 291.8L85.5 291.6L86.0 291.6L86.5 290.8L87.0 292.4L87.5 291.3L88.0 288.5L88.5 290.4L89.0 290.9L89.5 291.9L90.0 290.6L90.5 290.6L91.0 290.2L91.5 291.4L92.0 290.3L92.5 290.1L93.0 289.9L93.5 291.1L94.0 290.0L94.5 288.9L95.0 291.0L95.5 289.7L96.0 290.6L96.5 290.6L97.0 291.4L97.5 291.2L98.0 289.5L98.5 289.9L99.0 288.7L99.5 291.6L100.0 290.3L100.5 291.2L101.0 289.4L101.5 287.7L102.0 291.1L102.5 289.6L103.0 289.6L103.5 289.4L104.0 289.9L104.5 289.7L105.0 287.5L105.5 290.1L106.0 288.4L106.5 288.4L107.0 290.5L107.5 289.6L108.0 288.3L108.5 286.7L109.0 288.6L109.5 288.9L110.0 288.2L110.5 287.0L111.0 287.4L111.5 286.8L112.0 288.2L112.5 288.7L113.0 288.9L113.5 287.0L114.0 287.9L114.5 288.1L115.0 286.9L115.5 287.2L116.0 289.5L116.5 287.4L117.0 288.0L117.5 286.5L118.0 286.9L118.5 285.0L119.0 286.7L119.5 287.9L120.0 288.7L120.5 287.7L121.0 287.1L121.5 286.3L122.0 285.5L122.5 285.9L123.0 286.6L123.5 285.0L124.0 286.8L124.5 284.6L125.0 283.6L125.5 284.3L126.0 283.5L126.5 283.7L127.0 286.2L127.5 284.7L128.0 285.0L128.5 285.9L129.0 285.9L129.5 283.8L130.0 285.7L130.5 284.5L131.0 284.0L131.5 284.3L132.0 282.1L132.5 282.7L133.0 283.3L133.5 284.0L134.0 282.7L134.5 282.9L135.0 284.0L135.5 284.3L136.0 283.4L136.5 283.8L137.0 281.7L137.5 281.6L138.0 282.1L138.5 281.2L139.0 280.7L139.5 283.0L140.0 280.6L140.5 279.5L141.0 281.0L141.5 282.4L142.0 280.1L142.5 281.2L143.0 279.0L143.5 278.7L144.0 278.2L144.5 278.7L145.0 280.9L145.5 277.0L146.0 280.3L146.5 276.7L147.0 277.4L147.5 278.5L148.0 278.0L148.5 277.2L149.0 274.4L149.5 276.7L150.0 274.6L150.5 279.0L151.0 275.0L151.5 275.2L152.0 273.1L152.5 273.7L153.0 272.2L153.5 275.0L154.0 273.0L154.5 273.8L155.0 271.7L155.5 271.6L156.0 273.8L156.5 270.3L157.0 268.8L157.5 271.6L158.0 269.0L158.5 269.7L159.0 271.3L159.5 268.3L160.0 270.4L160.5 267.7L161.0 270.5L161.5 269.8L162.0 266.6L162.5 266.5L163.0 265.0L163.5 266.1L164.0 267.1L164.5 262.5L165.0 265.8L165.5 261.7L166.0 261.9L166.5 259.8L167.0 265.8L167.5 261.9L168.0 261.7L168.5 259.6L169.0 262.0L169.5 256.1L170.0 259.2L170.5 262.5L171.0 257.4L171.5 257.6L172.0 258.4L172.5 255.3L173.0 256.4L173.5 257.8L174.0 256.1L174.5 256.2L175.0 254.7L175.5 255.8L176.0 255.2L176.5 257.6L177.0 256.2L177.5 254.4L178.0 250.4L178.5 256.3L179.0 256.5L179.5 253.6L180.0 251.9L180.5 253.7L181.0 257.8L181.5 254.5L182.0 255.9L182.5 257.5L183.0 259.6L183.5 257.7L184.0 257.9L184.5 257.4L185.0 261.6L185.5 260.9L186.0 259.2L186.5 257.3L187.0 258.6L187.5 261.3L188.0 259.4L188.5 262.4L189.0 261.7L189.5 261.8L190.0 262.6L190.5 262.6L191.0 260.5L191.5 261.6L192.0 266.2L192.5 260.5L193.0 261.9L193.5 264.6L194.0 262.8L194.5 261.9L195.0 261.3L195.5 264.5L196.0 265.5L196.5 266.3L197.0 264.3L197.5 266.0L198.0 262.8L198.5 264.9L199.0 263.7L199.5 265.2L200.0 266.2L200.5 266.8L201.0 263.7L201.5 267.3L202.0 264.7L202.5 264.0L203.0 265.5L203.5 263.6L204.0 266.1L204.5 266.7L205.0 266.1L205.5 267.4L206.0 266.3L206.5 266.9L207.0 264.9L207.5 267.3L208.0 266.1L208.5 266.9L209.0 267.6L209.5 268.3L210.0 265.6L210.5 265.9L211.0 268.0L211.5 269.4L212.0 269.4L212.5 270.3L213.0 271.1L213.5 270.0L214.0 269.4L214.5 268.1L215.0 268.4L215.5 269.3L216.0 270.5L216.5 270.6L217.0 270.4L217.5 270.3L218.0 271.6L218.5 271.1L219.0 271.4L219.5 271.6L220.0 270.5L220.5 270.0L221.0 272.3L221.5 272.3L222.0 271.6L222.5 271.5L223.0 275.4L223.5 271.3L224.0 272.2L224.5 273.0L225.0 271.2L225.5 273.1L226.0 275.6L226.5 274.5L227.0 274.2L227.5 274.3L228.0 273.7L228.5 275.0L229.0 273.6L229.5 273.4L230.0 274.2L230.5 275.4L231.0 274.8L231.5 275.3L232.0 271.8L232.5 276.3L233.0 277.9L233.5 276.7L234.0 274.6L234.5 274.0L235.0 275.6L235.5 274.1L236.0 276.5L236.5 274.9L237.0 277.0L237.5 277.6L238.0 273.3L238.5 276.4L239.0 275.2L239.5 274.4L240.0 275.5L240.5 276.1L241.0 277.8L241.5 274.6L242.0 278.0L242.5 279.3L243.0 277.6L243.5 277.6L244.0 276.9L244.5 275.5L245.0 277.8L245.5 277.7L246.0 278.2L246.5 280.6L247.0 278.4L247.5 278.0L248.0 279.6L248.5 275.9L249.0 276.3L249.5 277.3L250.0 277.1L250.5 278.9L251.0 277.7L251.5 280.3L252.0 280.1L252.5 279.3L253.0 277.9L253.5 279.2L254.0 279.5L254.5 277.3L255.0 279.1L255.5 279.6L256.0 279.1L256.5 280.9L257.0 280.5L257.5 278.1L258.0 279.3L258.5 278.2L259.0 280.0L259.5 278.3L260.0 280.6L260.5 280.0L261.0 280.8L261.5 279.5L262.0 278.0L262.5 282.0L263.0 279.7L263.5 281.6L264.0 280.5L264.5 280.9L265.0 282.3L265.5 280.6L266.0 281.9L266.5 278.5L267.0 281.4L267.5 280.1L268.0 280.2L268.5 280.5L269.0 280.9L269.5 282.5L270.0 278.4L270.5 280.7L271.0 279.9L271.5 282.2L272.0 280.3L272.5 281.4L273.0 280.4L273.5 281.8L274.0 282.2L274.5 280.6L275.0 281.2L275.5 279.6L276.0 281.7L276.5 282.4L277.0 280.8L277.5 282.8L278.0 279.2L278.5 279.5L279.0 280.1L279.5 281.2L280.0 281.9L280.5 281.9L281.0 281.9L281.5 282.9L282.0 281.6L282.5 280.8L283.0 280.9L283.5 284.8L284.0 279.7L284.5 282.3L285.0 284.3L285.5 283.2L286.0 281.8L286.5 282.8L287.0 283.9L287.5 284.3L288.0 282.0L288.5 284.0L289.0 283.5L289.5 284.5L290.0 284.9L290.5 283.0L291.0 281.9L291.5 284.0L292.0 285.7L292.5 284.5L293.0 284.1L293.5 286.6L294.0 282.8L294.5 285.1L295.0 283.5L295.5 284.3L296.0 284.4L296.5 286.1L297.0 283.4L297.5 283.9L298.0 282.9L298.5 285.2L299.0 284.3L299.5 285.3L300.0 283.7L300.5 284.6L301.0 286.2L301.5 284.9L302.0 285.9L302.5 285.8L303.0 284.9L303.5 283.7L304.0 286.5L304.5 285.7L305.0 286.7L305.5 283.5L306.0 284.0L306.5 283.5L307.0 285.0L307.5 287.1L308.0 286.6L308.5 286.1L309.0 286.3L309.5 287.0L310.0 286.0L310.5 286.8L311.0 286.5L311.5 284.2L312.0 286.1L312.5 288.0L313.0 286.2L313.5 286.5L314.0 286.1L314.5 286.2L315.0 288.0L315.5 286.6L316.0 285.8L316.5 283.7L317.0 286.4L317.5 285.0L318.0 285.2L318.5 288.0L319.0 287.9L319.5 285.3L320.0 288.2L320.5 287.8L321.0 286.6L321.5 288.2L322.0 285.8L322.5 286.3L323.0 286.1L323.5 286.4L324.0 288.5L324.5 286.3L325.0 286.5L325.5 286.7L326.0 287.9L326.5 287.4L327.0 288.7L327.5 287.1L328.0 286.5L328.5 287.3L329.0 287.9L329.5 287.0L330.0 288.2L330.5 289.8L331.0 287.4L331.5 288.1L332.0 289.4L332.5 287.4L333.0 287.2L333.5 287.0L334.0 288.5L334.5 288.6L335.0 288.0L335.5 288.2L336.0 289.4L336.5 289.0L337.0 286.8L337.5 288.2L338.0 288.3L338.5 288.9L339.0 288.0L339.5 287.5L340.0 287.7L340.5 286.4L341.0 288.2L341.5 287.6L342.0 288.7L342.5 287.2L343.0 287.8L343.5 287.2L344.0 287.1L344.5 288.9L345.0 287.7L345.5 288.6L346.0 287.0L346.5 288.2L347.0 286.3L347.5 287.5L348.0 287.4L348.5 288.5L349.0 287.9L349.5 287.4L350.0 288.3L350.5 287.3L351.0 287.3L351.5 287.1L352.0 285.4L352.5 284.1L353.0 283.2L353.5 280.3L354.0 279.4L354.5 279.7L355.0 280.7L355.5 281.3L356.0 282.2L356.5 285.0L357.0 285.9L357.5 287.9L358.0 286.8L358.5 287.4L359.0 288.6L359.5 287.6L360.0 288.1L360.5 290.1L361.0 290.0L361.5 289.2L362.0 289.0L362.5 287.8L363.0 289.4L363.5 289.0L364.0 289.2L364.5 288.5L365.0 289.0L365.5 288.9L366.0 289.4L366.5 290.6L367.0 289.5L367.5 287.6L368.0 288.3L368.5 287.7L369.0 288.5L369.5 289.9L370.0 289.8L370.5 288.8L371.0 289.7L371.5 288.7L372.0 288.1L372.5 288.1L373.0 288.7L373.5 290.9L374.0 288.3L374.5 290.8L375.0 290.9L375.5 289.5L376.0 289.7L376.5 289.1L377.0 289.7L377.5 290.4L378.0 289.8L378.5 290.8L379.0 291.1L379.5 290.3L380.0 290.3L380.5 290.0L381.0 290.4L381.5 289.0L382.0 290.5L382.5 290.4L383.0 289.4L383.5 292.3L384.0 289.3L384.5 289.5L385.0 290.6L385.5 288.5L386.0 289.7L386.5 289.0L387.0 289.6L387.5 290.4L388.0 290.9L388.5 291.6L389.0 291.4L389.5 291.8L390.0 291.3L390.5 290.3L391.0 291.8L391.5 290.3L392.0 290.3L392.5 292.3L393.0 291.6L393.5 291.1L394.0 291.7L394.5 291.8L395.0 289.8L395.5 291.0L396.0 290.0L396.5 291.3L397.0 290.5L397.5 292.5L398.0 291.7L398.5 290.5L399.0 291.3L399.5 290.2L400.0 291.4L400.5 291.9L401.0 291.7L401.5 289.7L402.0 291.2L402.5 292.0L403.0 291.8L403.5 292.6L404.0 290.4L404.5 292.1L405.0 291.0L405.5 291.8L406.0 292.0L406.5 292.3L407.0 291.1L407.5 291.8L408.0 290.5L408.5 290.3L409.0 292.0L409.5 291.4L410.0 289.8L410.5 290.3L411.0 290.9L411.5 291.9L412.0 291.0L412.5 290.2L413.0 287.3L413.5 288.9L414.0 289.8L414.5 290.2L415.0 290.8L415.5 290.7L416.0 293.0L416.5 293.0L417.0 291.8L417.5 291.2L418.0 294.1L418.5 291.9L419.0 293.6L419.5 294.3L420.0 291.8L420.5 293.0L421.0 292.5L421.5 293.3L422.0 293.2L422.5 294.7L423.0 293.6L423.5 293.1L424.0 294.1L424.5 293.0L425.0 292.9L425.5 295.3L426.0 292.7L426.5 293.0L427.0 293.5L427.5 292.6L428.0 291.8L428.5 294.6L429.0 293.0L429.5 293.3L430.0 293.5L430.5 293.0L431.0 293.0L431.5 294.1L432.0 296.1L432.5 294.7L433.0 294.8L433.5 292.9L434.0 294.2L434.5 293.3L435.0 295.0L435.5 294.2L436.0 294.4L436.5 294.4L437.0 294.0L437.5 293.2L438.0 295.0L438.5 293.4L439.0 293.6L439.5 294.4L440.0 294.0L440.5 294.9L441.0 295.5L441.5 294.9L442.0 294.9L442.5 294.8L443.0 295.5L443.5 293.3L444.0 295.2L444.5 294.1L445.0 293.9L445.5 294.9L446.0 294.6L446.5 295.5L447.0 295.9L447.5 293.1L448.0 295.0L448.5 296.7L449.0 295.8L449.5 296.3L450.0 295.2L450.5 294.0L451.0 294.3L451.5 295.8L452.0 296.0L452.5 294.7L453.0 295.1L453.5 295.5L454.0 293.9L454.5 295.1L455.0 296.7L455.5 297.2L456.0 295.4L456.5 297.0L457.0 295.1L457.5 294.9L458.0 293.7L458.5 296.4L459.0 295.3L459.5 297.6L460.0 295.9L460.5 295.8L461.0 294.2L461.5 297.0L462.0 295.4L462.5 295.6L463.0 294.0L463.5 296.6L464.0 296.6L464.5 295.4L465.0 296.0L465.5 296.2L466.0 296.7L466.5 296.0L467.0 297.4L467.5 295.8L468.0 295.5L468.5 295.7L469.0 294.0L469.5 295.4L470.0 296.9L470.5 296.4L471.0 295.5L471.5 296.5L472.0 294.6L472.5 296.0L473.0 296.7L473.5 296.8L474.0 295.7L474.5 297.1L475.0 297.9L475.5 296.0L476.0 297.0L476.5 295.2L477.0 294.9L477.5 297.0L478.0 296.5L478.5 296.7L479.0 296.1L479.5 296.3L480.0 297.2L480.5 298.0L481.0 296.5L481.5 295.3L482.0 297.7L482.5 297.2L483.0 297.3L483.5 296.9L484.0 298.6L484.5 296.9L485.0 297.3L485.5 295.4L486.0 296.5L486.5 296.4L487.0 297.0L487.5 297.3L488.0 296.5L488.5 298.4L489.0 296.3L489.5 296.8L490.0 297.4L490.5 296.2L491.0 297.7L491.5 297.8L492.0 297.1L492.5 298.8L493.0 297.4L493.5 297.6L494.0 296.7L494.5 296.2L495.0 297.0L495.5 297.3L496.0 297.2L496.5 298.2L497.0 295.8L497.5 296.8L498.0 296.3L498.5 298.8L499.0 297.3L499.5 297.4L500.0 297.0L500.5 298.5L501.0 297.6L501.5 298.1L502.0 296.4L502.5 298.8L503.0 298.2L503.5 298.4L504.0 298.9L504.5 297.8L505.0 297.9L505.5 298.6L506.0 298.4L506.5 297.9L507.0 298.1L507.5 297.7L508.0 298.6L508.5 298.8L509.0 298.1L509.5 299.6L510.0 297.0L510.5 298.0L511.0 299.5L511.5 297.9L512.0 297.0L512.5 299.3L513.0 298.6L513.5 297.3L514.0 298.8L514.5 297.5L515.0 297.3L515.5 298.2L516.0 297.9L516.5 297.5L517.0 298.1L517.5 297.6L518.0 298.4L518.5 298.4L519.0 299.0L519.5 298.1L520.0 297.4L520.5 297.4L521.0 298.3L521.5 299.6L522.0 299.1L522.5 298.0L523.0 299.2L523.5 297.6L524.0 299.3L524.5 298.3L525.0 299.1L525.5 299.0L526.0 298.4L526.5 298.8L527.0 297.8L527.5 298.6L528.0 299.4L528.5 301.7L529.0 299.2L529.5 298.7L530.0 297.9L530.5 299.5L531.0 297.4L531.5 298.1L532.0 299.0L532.5 297.8L533.0 299.9L533.5 299.5L534.0 298.3L534.5 298.3L535.0 297.8L535.5 297.7L536.0 299.1L536.5 299.3L537.0 299.1L537.5 299.0L538.0 298.4L538.5 299.1L539.0 297.7L539.5 298.9L540.0 300.0L540.5 299.9L541.0 298.5L541.5 298.6L542.0 299.9L542.5 300.2L543.0 297.8L543.5 298.6L544.0 299.1L544.5 299.9L545.0 298.3L545.5 299.4L546.0 298.8L546.5 300.8L547.0 299.3L547.5 298.9L548.0 298.8L548.5 299.8L549.0 299.5L549.5 298.2L550.0 299.2L550.5 298.1L551.0 298.5L551.5 298.1L552.0 298.1L552.5 298.6L553.0 298.4L553.5 299.5L554.0 299.7L554.5 299.0L555.0 298.3L555.5 299.8L556.0 297.7L556.5 297.8L557.0 299.8L557.5 299.7L558.0 300.0L558.5 299.1L559.0 298.3L559.5 298.9L560.0 299.7L560.5 298.7L561.0 298.8L561.5 298.3L562.0 298.5L562.5 300.0L563.0 299.7L563.5 298.5L564.0 298.6L564.5 299.0L565.0 299.8L565.5 298.6L566.0 299.3L566.5 297.9L567.0 298.5L567.5 299.8L568.0 300.1L568.5 298.6L569.0 298.9L569.5 300.1L570.0 299.2L570.5 299.1L571.0 299.9L571.5 299.7L572.0 300.4L572.5 300.2L573.0 299.2L573.5 299.5L574.0 299.6L574.5 298.6L575.0 298.9L575.5 300.4L576.0 298.5L576.5 300.4L577.0 299.9L577.5 299.6L578.0 300.1L578.5 300.1L579.0 300.6L579.5 299.5L580.0 299.6L580.5 299.6L581.0 301.1L581.5 300.5L582.0 299.1L582.5 299.6L583.0 299.3L583.5 299.9L584.0 300.0L584.5 301.5L585.0 298.6L585.5 300.6L586.0 300.2L586.5 299.4L587.0 299.8L587.5 299.6L588.0 300.0L588.5 300.7L589.0 298.9L589.5 300.9L590.0 299.7L590.5 301.1L591.0 300.3L591.5 300.9L592.0 300.4L592.5 300.8L593.0 300.1L593.5 299.4L594.0 300.5L594.5 300.6L595.0 301.6L595.5 298.6L596.0 299.9L596.5 300.8L597.0 299.1L597.5 299.9L598.0 301.5L598.5 301.0L599.0 299.3L599.5 300.9L600.0 300.7L600.5 300.3L601.0 299.8L601.5 299.5L602.0 298.3L602.5 298.1L603.0 298.5L603.5 297.5L604.0 298.8L604.5 297.5L605.0 296.6L605.5 298.7L606.0 299.5L606.5 299.8L607.0 299.8L607.5 299.3L608.0 301.0L608.5 299.6L609.0 300.6L609.5 299.9L610.0 299.3L610.5 301.2L611.0 298.4L611.5 299.6L612.0 300.6L612.5 300.0L613.0 300.8L613.5 300.2L614.0 300.0L614.5 301.9L615.0 300.2L615.5 300.2L616.0 299.6L616.5 299.8L617.0 300.8L617.5 300.8L618.0 300.4L618.5 299.9L619.0 300.9L619.5 299.2L620.0 300.2L620.5 300.2L621.0 299.8L621.5 300.5L622.0 300.0L622.5 299.9L623.0 301.7L623.5 301.0L624.0 301.3L624.5 300.5L625.0 301.1L625.5 301.0L626.0 301.3L626.5 302.1L627.0 300.3L627.5 300.7L628.0 300.4L628.5 298.0L629.0 299.5L629.5 300.5L630.0 300.9L630.5 300.1L631.0 301.3L631.5 301.4L632.0 300.2L632.5 301.5L633.0 301.7L633.5 300.8L634.0 299.8L634.5 301.5L635.0 300.4L635.5 300.3L636.0 300.6L636.5 300.1L637.0 301.3L637.5 301.1L638.0 301.4L638.5 300.9L639.0 300.0L639.5 300.4L640.0 301.2L640.5 300.3L641.0 302.6L641.5 300.4L642.0 300.1L642.5 301.4L643.0 301.1L643.5 300.5L644.0 300.4L644.5 300.9L645.0 301.1L645.5 301.1L646.0 300.3L646.5 300.9L647.0 301.2L647.5 301.1L648.0 298.4L648.5 299.9L649.0 300.0L649.5 300.4L650.0 300.7L650.5 301.2L651.0 301.0L651.5 300.5L652.0 300.6L652.5 301.8L653.0 300.2L653.5 300.8L654.0 301.7L654.5 300.8L655.0 299.2L655.5 300.9L656.0 300.3L656.5 300.5L657.0 301.3L657.5 300.9" stroke="#ff00ff" stroke-width="3.5"/>
<path d="M43.5 226.6L44.0 227.7L44.5 227.3L45.0 227.0L45.5 227.2L46.0 227.2L46.5 226.8L47.0 226.7L47.5 227.2L48.0 226.4L48.5 226.1L49.0 228.5L49.5 227.2L50.0 227.4L50.5 227.4L51.0 227.6L51.5 227.6L52.0 227.7L52.5 227.0L53.0 228.6L53.5 227.2L54.0 228.8L54.5 226.2L55.0 227.0L55.5 228.9L56.0 228.0L56.5 227.5L57.0 228.5L57.5 227.3L58.0 228.4L58.5 226.4L59.0 228.0L59.5 227.9L60.0 229.0L60.5 229.4L61.0 227.9L61.5 230.1L62.0 228.3L62.5 227.0L63.0 226.8L63.5 230.3L64.0 228.9L64.5 228.4L65.0 228.4L65.5 228.1L66.0 230.3L66.5 229.1L67.0 230.7L67.5 229.0L68.0 227.2L68.5 230.0L69.0 228.9L69.5 229.1L70.0 230.6L70.5 229.1L71.0 230.3L71.5 229.4L72.0 228.8L72.5 229.9L73.0 228.9L73.5 230.5L74.0 230.3L74.5 229.6L75.0 230.1L75.5 230.0L76.0 229.3L76.5 230.3L77.0 229.4L77.5 230.1L78.0 228.8L78.5 229.7L79.0 230.0L79.5 228.9L80.0 229.2L80.5 229.1L81.0 230.2L81.5 229.0L82.0 230.0L82.5 230.9L83.0 229.9L83.5 228.2L84.0 229.7L84.5 230.5L85.0 229.4L85.5 230.5L86.0 230.1L86.5 230.0L87.0 229.4L87.5 229.2L88.0 229.4L88.5 229.6L89.0 230.0L89.5 229.9L90.0 229.3L90.5 229.6L91.0 229.8L91.5 228.1L92.0 228.8L92.5 228.7L93.0 229.2L93.5 229.1L94.0 229.1L94.5 228.6L95.0 229.9L95.5 229.5L96.0 227.9L96.5 229.3L97.0 228.3L97.5 230.7L98.0 228.8L98.5 228.8L99.0 229.2L99.5 228.9L100.0 229.0L100.5 230.4L101.0 229.2L101.5 229.7L102.0 229.9L102.5 228.0L103.0 230.3L103.5 229.4L104.0 229.5L104.5 227.9L105.0 229.3L105.5 228.9L106.0 228.0L106.5 230.5L107.0 228.9L107.5 228.2L108.0 228.5L108.5 229.1L109.0 229.2L109.5 228.7L110.0 229.2L110.5 229.4L111.0 226.9L111.5 227.5L112.0 227.1L112.5 227.9L113.0 229.1L113.5 228.3L114.0 226.7L114.5 227.3L115.0 228.4L115.5 226.9L116.0 227.3L116.5 227.6L117.0 225.6L117.5 227.8L118.0 227.4L118.5 227.5L119.0 226.0L119.5 226.1L120.0 226.2L120.5 226.9L121.0 226.7L121.5 226.7L122.0 228.2L122.5 227.6L123.0 225.7L123.5 225.7L124.0 227.8L124.5 225.8L125.0 227.3L125.5 227.4L126.0 225.3L126.5 225.5L127.0 225.7L127.5 224.7L128.0 224.5L128.5 224.9L129.0 226.0L129.5 224.7L130.0 224.8L130.5 224.4L131.0 223.5L131.5 226.1L132.0 222.3L132.5 223.9L133.0 224.9L133.5 222.9L134.0 224.8L134.5 225.3L135.0 223.1L135.5 224.1L136.0 222.7L136.5 224.2L137.0 223.7L137.5 223.7L138.0 224.7L138.5 223.7L139.0 224.5L139.5 223.7L140.0 221.7L140.5 223.1L141.0 223.2L141.5 221.2L142.0 223.9L142.5 222.5L143.0 222.7L143.5 221.3L144.0 222.2L144.5 222.3L145.0 221.6L145.5 221.9L146.0 219.5L146.5 223.0L147.0 220.3L147.5 219.1L148.0 220.2L148.5 220.2L149.0 221.6L149.5 219.9L150.0 221.1L150.5 219.6L151.0 222.9L151.5 221.0L152.0 222.4L152.5 219.0L153.0 220.7L153.5 218.8L154.0 220.4L154.5 220.3L155.0 217.7L155.5 218.1L156.0 217.9L156.5 217.4L157.0 218.1L157.5 217.7L158.0 217.1L158.5 218.6L159.0 219.0L159.5 216.7L160.0 217.3L160.5 217.7L161.0 217.2L161.5 216.4L162.0 217.9L162.5 217.6L163.0 217.2L163.5 215.8L164.0 218.1L164.5 217.6L165.0 214.7L165.5 214.7L166.0 216.1L166.5 213.3L167.0 214.5L167.5 213.8L168.0 212.6L168.5 213.0L169.0 211.0L169.5 212.1L170.0 209.9L170.5 215.2L171.0 213.9L171.5 213.3L172.0 211.9L172.5 212.5L173.0 212.7L173.5 212.1L174.0 211.8L174.5 209.2L175.0 210.8L175.5 209.4L176.0 208.4L176.5 208.3L177.0 210.3L177.5 211.0L178.0 207.6L178.5 211.7L179.0 211.2L179.5 208.5L180.0 208.3L180.5 208.8L181.0 210.2L181.5 208.2L182.0 207.2L182.5 209.2L183.0 205.9L183.5 208.9L184.0 210.3L184.5 209.2L185.0 209.9L185.5 209.5L186.0 209.9L186.5 209.1L187.0 207.8L187.5 208.7L188.0 208.9L188.5 210.8L189.0 211.3L189.5 209.7L190.0 208.2L190.5 208.3L191.0 209.1L191.5 211.3L192.0 209.9L192.5 209.5L193.0 208.6L193.5 210.9L194.0 210.1L194.5 209.8L195.0 210.0L195.5 212.2L196.0 209.8L196.5 212.3L197.0 211.8L197.5 210.3L198.0 211.4L198.5 210.1L199.0 209.2L199.5 210.0L200.0 209.1L200.5 211.0L201.0 210.4L201.5 211.1L202.0 211.5L202.5 206.2L203.0 210.8L203.5 208.0L204.0 210.6L204.5 209.3L205.0 210.6L205.5 212.3L206.0 208.2L206.5 210.7L207.0 210.4L207.5 208.0L208.0 211.3L208.5 210.5L209.0 209.8L209.5 209.6L210.0 214.8L210.5 210.0L211.0 208.2L211.5 209.3L212.0 210.1L212.5 210.1L213.0 210.5L213.5 209.2L214.0 211.4L214.5 210.1L215.0 209.0L215.5 209.7L216.0 210.4L216.5 212.1L217.0 211.7L217.5 210.7L218.0 211.2L218.5 211.5L219.0 214.0L219.5 210.6L220.0 212.1L220.5 212.5L221.0 210.4L221.5 211.9L222.0 211.9L222.5 211.2L223.0 212.6L223.5 213.3L224.0 213.5L224.5 211.8L225.0 212.4L225.5 215.2L226.0 210.9L226.5 212.7L227.0 213.6L227.5 212.7L228.0 213.4L228.5 212.9L229.0 213.7L229.5 214.4L230.0 212.6L230.5 213.2L231.0 212.9L231.5 212.6L232.0 213.1L232.5 211.8L233.0 214.2L233.5 215.5L234.0 215.6L234.5 215.1L235.0 212.4L235.5 215.5L236.0 212.8L236.5 213.7L237.0 216.1L237.5 212.6L238.0 215.0L238.5 214.4L239.0 213.9L239.5 213.1L240.0 214.8L240.5 213.7L241.0 215.6L241.5 215.9L242.0 212.8L242.5 213.9L243.0 214.2L243.5 213.2L244.0 213.3L244.5 214.9L245.0 214.6L245.5 212.9L246.0 214.3L246.5 215.6L247.0 213.6L247.5 214.0L248.0 217.1L248.5 216.8L249.0 213.3L249.5 213.7L250.0 215.8L250.5 214.0L251.0 215.2L251.5 215.0L252.0 216.2L252.5 212.6L253.0 213.0L253.5 214.2L254.0 216.9L254.5 215.6L255.0 213.8L255.5 216.4L256.0 216.7L256.5 215.6L257.0 215.6L257.5 216.5L258.0 217.5L258.5 216.3L259.0 216.8L259.5 216.1L260.0 215.8L260.5 215.2L261.0 216.6L261.5 216.0L262.0 216.1L262.5 217.6L263.0 217.1L263.5 217.6L264.0 214.8L264.5 217.3L265.0 216.1L265.5 215.9L266.0 215.9L266.5 218.3L267.0 218.0L267.5 216.2L268.0 215.8L268.5 217.2L269.0 216.7L269.5 219.2L270.0 215.7L270.5 215.3L271.0 217.2L271.5 217.5L272.0 217.7L272.5 218.5L273.0 220.1L273.5 217.4L274.0 217.2L274.5 215.8L275.0 218.2L275.5 218.9L276.0 217.7L276.5 219.4L277.0 218.1L277.5 219.9L278.0 218.6L278.5 217.1L279.0 217.6L279.5 216.6L280.0 216.5L280.5 218.8L281.0 219.5L281.5 220.8L282.0 218.6L282.5 218.4L283.0 217.5L283.5 219.9L284.0 219.3L284.5 218.2L285.0 219.7L285.5 219.6L286.0 217.0L286.5 219.9L287.0 219.3L287.5 218.8L288.0 218.8L288.5 221.3L289.0 221.1L289.5 221.5L290.0 218.3L290.5 218.9L291.0 220.7L291.5 218.5L292.0 219.1L292.5 218.0L293.0 222.0L293.5 221.2L294.0 220.7L294.5 220.5L295.0 219.8L295.5 219.9L296.0 221.1L296.5 219.7L297.0 221.9L297.5 220.1L298.0 219.8L298.5 222.2L299.0 220.7L299.5 221.6L300.0 220.6L300.5 218.7L301.0 221.8L301.5 219.9L302.0 222.5L302.5 219.8L303.0 219.6L303.5 221.9L304.0 222.1L304.5 221.9L305.0 220.6L305.5 222.8L306.0 220.5L306.5 221.6L307.0 221.3L307.5 221.8L308.0 223.2L308.5 221.7L309.0 223.0L309.5 223.2L310.0 220.9L310.5 221.5L311.0 222.4L311.5 222.2L312.0 223.2L312.5 221.0L313.0 223.8L313.5 223.9L314.0 223.0L314.5 221.9L315.0 223.3L315.5 222.9L316.0 224.0L316.5 223.5L317.0 224.3L317.5 223.2L318.0 225.2L318.5 221.5L319.0 222.9L319.5 224.5L320.0 222.5L320.5 224.8L321.0 223.0L321.5 224.3L322.0 223.4L322.5 224.0L323.0 224.6L323.5 224.4L324.0 224.2L324.5 226.8L325.0 224.7L325.5 223.9L326.0 225.8L326.5 225.7L327.0 226.2L327.5 226.8L328.0 224.3L328.5 226.2L329.0 226.4L329.5 225.4L330.0 225.7L330.5 222.6L331.0 225.0L331.5 227.3L332.0 224.0L332.5 225.3L333.0 226.1L333.5 226.4L334.0 227.5L334.5 224.3L335.0 226.1L335.5 226.9L336.0 224.9L336.5 226.1L337.0 227.9L337.5 227.4L338.0 226.7L338.5 223.8L339.0 226.2L339.5 226.7L340.0 226.1L340.5 226.3L341.0 229.3L341.5 226.3L342.0 225.6L342.5 226.7L343.0 226.2L343.5 226.3L344.0 226.5L344.5 227.3L345.0 226.8L345.5 225.5L346.0 226.5L346.5 227.0L347.0 226.1L347.5 227.6L348.0 227.2L348.5 225.5L349.0 226.7L349.5 228.1L350.0 227.6L350.5 225.9L351.0 226.6L351.5 224.7L352.0 223.5L352.5 224.7L353.0 223.4L353.5 222.3L354.0 219.9L354.5 218.6L355.0 217.2L355.5 219.4L356.0 221.7L356.5 222.4L357.0 224.6L357.5 223.0L358.0 224.6L358.5 227.1L359.0 227.7L359.5 226.6L360.0 226.4L360.5 225.5L361.0 227.1L361.5 227.6L362.0 225.6L362.5 227.6L363.0 227.6L363.5 227.6L364.0 226.2L364.5 227.8L365.0 225.9L365.5 228.7L366.0 227.5L366.5 226.4L367.0 228.7L367.5 228.5L368.0 226.9L368.5 229.5L369.0 226.6L369.5 227.8L370.0 228.7L370.5 225.6L371.0 228.5L371.5 227.6L372.0 227.7L372.5 226.7L373.0 228.0L373.5 226.7L374.0 226.9L374.5 227.4L375.0 226.7L375.5 229.2L376.0 226.7L376.5 227.2L377.0 227.6L377.5 227.9L378.0 228.7L378.5 228.7L379.0 227.8L379.5 227.7L380.0 228.1L380.5 228.9L381.0 228.8L381.5 227.7L382.0 226.4L382.5 230.2L383.0 229.1L383.5 228.6L384.0 228.7L384.5 227.9L385.0 227.5L385.5 228.2L386.0 228.3L386.5 228.0L387.0 227.3L387.5 228.3L388.0 229.1L388.5 228.2L389.0 228.7L389.5 226.9L390.0 228.6L390.5 228.7L391.0 227.7L391.5 227.3L392.0 229.2L392.5 228.2L393.0 229.3L393.5 228.6L394.0 229.5L394.5 228.7L395.0 227.7L395.5 229.0L396.0 228.8L396.5 229.7L397.0 228.8L397.5 228.9L398.0 230.0L398.5 230.2L399.0 229.9L399.5 230.2L400.0 229.7L400.5 230.0L401.0 230.1L401.5 229.7L402.0 229.4L402.5 229.5L403.0 231.5L403.5 229.4L404.0 229.2L404.5 229.1L405.0 229.4L405.5 229.7L406.0 228.5L406.5 227.7L407.0 229.7L407.5 228.0L408.0 229.6L408.5 229.5L409.0 230.3L409.5 230.6L410.0 229.4L410.5 228.5L411.0 227.7L411.5 227.8L412.0 228.1L412.5 225.9L413.0 227.5L413.5 227.4L414.0 228.3L414.5 227.8L415.0 228.6L415.5 228.2L416.0 228.7L416.5 227.8L417.0 229.6L417.5 230.9L418.0 229.8L418.5 230.1L419.0 229.0L419.5 231.1L420.0 229.3L420.5 230.7L421.0 230.1L421.5 229.3L422.0 231.0L422.5 230.1L423.0 230.3L423.5 230.6L424.0 230.2L424.5 230.0L425.0 230.7L425.5 230.0L426.0 230.5L426.5 229.9L427.0 229.2L427.5 230.0L428.0 230.2L428.5 230.6L429.0 231.6L429.5 229.3L430.0 230.8L430.5 228.9L431.0 229.9L431.5 230.4L432.0 229.0L432.5 229.4L433.0 231.1L433.5 231.1L434.0 230.9L434.5 230.4L435.0 232.9L435.5 231.0L436.0 230.5L436.5 232.5L437.0 231.7L437.5 230.9L438.0 232.2L438.5 231.4L439.0 231.8L439.5 231.5L440.0 230.5L440.5 232.1L441.0 231.5L441.5 230.6L442.0 230.8L442.5 232.2L443.0 231.1L443.5 231.5L444.0 232.0L444.5 231.6L445.0 230.3L445.5 232.0L446.0 232.3L446.5 232.2L447.0 232.9L447.5 231.9L448.0 232.2L448.5 232.9L449.0 231.4L449.5 233.0L450.0 233.0L450.5 232.3L451.0 233.2L451.5 232.4L452.0 231.0L452.5 232.7L453.0 232.0L453.5 232.1L454.0 231.9L454.5 232.9L455.0 232.3L455.5 231.3L456.0 232.3L456.5 232.5L457.0 231.3L457.5 231.6L458.0 231.6L458.5 231.5L459.0 232.2L459.5 232.8L460.0 233.5L460.5 233.0L461.0 232.8L461.5 233.0L462.0 233.1L462.5 231.8L463.0 232.6L463.5 232.4L464.0 232.0L464.5 231.8L465.0 231.8L465.5 232.0L466.0 231.2L466.5 232.6L467.0 232.2L467.5 232.3L468.0 232.5L468.5 232.9L469.0 231.8L469.5 232.2L470.0 231.1L470.5 230.6L471.0 230.9L471.5 233.6L472.0 231.0L472.5 232.8L473.0 233.6L473.5 232.1L474.0 233.7L474.5 233.9L475.0 233.2L475.5 234.4L476.0 233.0L476.5 232.0L477.0 233.0L477.5 232.2L478.0 231.6L478.5 231.6L479.0 234.4L479.5 232.2L480.0 232.7L480.5 232.2L481.0 232.8L481.5 232.5L482.0 232.4L482.5 231.8L483.0 231.7L483.5 232.2L484.0 233.0L484.5 234.4L485.0 233.7L485.5 234.3L486.0 233.3L486.5 232.8L487.0 231.9L487.5 232.9L488.0 231.3L488.5 232.7L489.0 234.2L489.5 233.2L490.0 233.9L490.5 232.7L491.0 232.0L491.5 232.7L492.0 232.8L492.5 234.0L493.0 234.6L493.5 232.5L494.0 232.9L494.5 233.0L495.0 232.9L495.5 232.2L496.0 233.3L496.5 233.5L497.0 233.5L497.5 232.3L498.0 233.2L498.5 232.0L499.0 234.0L499.5 232.5L500.0 233.1L500.5 233.0L501.0 232.9L501.5 232.5L502.0 232.0L502.5 234.7L503.0 233.6L503.5 233.6L504.0 235.0L504.5 233.3L505.0 233.8L505.5 233.4L506.0 234.3L506.5 233.8L507.0 233.7L507.5 233.3L508.0 233.7L508.5 234.4L509.0 231.9L509.5 233.4L510.0 233.2L510.5 233.3L511.0 232.1L511.5 234.1L512.0 232.9L512.5 233.4L513.0 233.2L513.5 232.3L514.0 233.3L514.5 232.2L515.0 232.9L515.5 233.4L516.0 233.6L516.5 233.7L517.0 233.6L517.5 235.3L518.0 234.0L518.5 232.8L519.0 233.2L519.5 233.2L520.0 233.6L520.5 233.3L521.0 233.1L521.5 235.0L522.0 233.8L522.5 233.5L523.0 233.6L523.5 233.6L524.0 234.8L524.5 234.2L525.0 234.7L525.5 231.5L526.0 234.1L526.5 234.6L527.0 235.3L527.5 233.9L528.0 232.6L528.5 234.3L529.0 233.5L529.5 232.6L530.0 233.5L530.5 234.7L531.0 234.8L531.5 234.5L532.0 233.2L532.5 235.8L533.0 233.1L533.5 233.9L534.0 232.9L534.5 235.0L535.0 234.4L535.5 234.7L536.0 234.1L536.5 234.0L537.0 234.2L537.5 232.7L538.0 234.8L538.5 234.8L539.0 233.8L539.5 234.1L540.0 234.3L540.5 235.3L541.0 234.5L541.5 234.2L542.0 233.8L542.5 233.1L543.0 233.7L543.5 234.2L544.0 234.0L544.5 234.3L545.0 234.8L545.5 234.6L546.0 234.4L546.5 234.7L547.0 234.4L547.5 234.3L548.0 234.6L548.5 233.0L549.0 235.2L549.5 233.4L550.0 234.9L550.5 234.3L551.0 235.1L551.5 234.4L552.0 233.7L552.5 235.1L553.0 234.5L553.5 234.5L554.0 234.4L554.5 235.1L555.0 235.0L555.5 234.6L556.0 233.3L556.5 234.1L557.0 234.5L557.5 235.7L558.0 234.7L558.5 234.4L559.0 235.3L559.5 234.4L560.0 234.4L560.5 234.6L561.0 233.4L561.5 235.2L562.0 234.8L562.5 234.3L563.0 233.7L563.5 234.7L564.0 235.5L564.5 234.0L565.0 233.7L565.5 234.8L566.0 233.4L566.5 232.9L567.0 234.2L567.5 234.0L568.0 234.3L568.5 234.2L569.0 234.8L569.5 234.4L570.0 234.1L570.5 234.2L571.0 235.0L571.5 235.3L572.0 235.3L572.5 235.1L573.0 232.2L573.5 233.9L574.0 234.4L574.5 234.8L575.0 233.5L575.5 235.7L576.0 234.9L576.5 234.2L577.0 234.8L577.5 234.4L578.0 234.1L578.5 235.0L579.0 234.4L579.5 233.7L580.0 234.2L580.5 234.6L581.0 233.9L581.5 235.6L582.0 233.9L582.5 236.0L583.0 235.4L583.5 234.1L584.0 234.8L584.5 235.6L585.0 234.6L585.5 233.9L586.0 234.8L586.5 236.2L587.0 233.7L587.5 235.2L588.0 234.8L588.5 234.7L589.0 234.5L589.5 234.6L590.0 235.6L590.5 235.2L591.0 234.1L591.5 235.9L592.0 233.9L592.5 235.3L593.0 235.0L593.5 235.7L594.0 235.1L594.5 235.6L595.0 234.8L595.5 235.6L596.0 235.1L596.5 236.4L597.0 234.4L597.5 235.7L598.0 235.2L598.5 235.0L599.0 234.4L599.5 235.1L600.0 233.7L600.5 233.8L601.0 235.2L601.5 233.5L602.0 235.6L602.5 234.2L603.0 234.4L603.5 234.1L604.0 234.3L604.5 233.9L605.0 234.0L605.5 234.4L606.0 235.4L606.5 235.6L607.0 235.7L607.5 235.1L608.0 234.8L608.5 233.7L609.0 235.4L609.5 235.6L610.0 234.7L610.5 235.6L611.0 236.0L611.5 235.1L612.0 235.8L612.5 235.3L613.0 233.8L613.5 234.7L614.0 234.8L614.5 235.5L615.0 234.5L615.5 234.8L616.0 234.4L616.5 235.1L617.0 235.2L617.5 235.8L618.0 235.7L618.5 235.3L619.0 235.3L619.5 235.3L620.0 235.3L620.5 236.3L621.0 233.4L621.5 235.1L622.0 235.4L622.5 236.0L623.0 234.4L623.5 235.5L624.0 235.8L624.5 234.9L625.0 233.9L625.5 235.0L626.0 234.4L626.5 235.7L627.0 234.7L627.5 236.5L628.0 235.4L628.5 234.7L629.0 234.9L629.5 234.5L630.0 235.6L630.5 236.4L631.0 235.2L631.5 236.0L632.0 234.7L632.5 235.6L633.0 237.0L633.5 234.4L634.0 236.2L634.5 236.2L635.0 234.0L635.5 234.4L636.0 234.7L636.5 236.1L637.0 235.1L637.5 235.3L638.0 235.9L638.5 235.5L639.0 235.6L639.5 235.2L640.0 236.2L640.5 234.9L641.0 236.6L641.5 235.2L642.0 234.9L642.5 235.9L643.0 235.8L643.5 234.1L644.0 235.6L644.5 234.5L645.0 234.9L645.5 236.1L646.0 234.9L646.5 235.8L647.0 235.2L647.5 236.9L648.0 235.5L648.5 234.7L649.0 234.8L649.5 234.9L650.0 235.6L650.5 235.6L651.0 236.2L651.5 235.7L652.0 235.7L652.5 235.8L653.0 235.5L653.5 235.8L654.0 236.1L654.5 236.2L655.0 235.2L655.5 234.4L656.0 235.1L656.5 235.8L657.0 233.9L657.5 235.3" stroke="#008000" stroke-width="3.5"/>
<path d="M43.5 176.9L44.0 176.3L44.5 176.1L45.0 177.8L45.5 177.7L46.0 176.8L46.5 177.8L47.0 177.8L47.5 176.4L48.0 178.8L48.5 176.6L49.0 177.1L49.5 176.7L50.0 177.4L50.5 176.7L51.0 177.5L51.5 178.2L52.0 177.8L52.5 177.5L53.0 178.7L53.5 177.3L54.0 178.5L54.5 177.8L55.0 178.1L55.5 178.1L56.0 178.2L56.5 178.2L57.0 177.8L57.5 178.0L58.0 178.6L58.5 178.4L59.0 177.8L59.5 178.1L60.0 178.2L60.5 178.7L61.0 178.9L61.5 178.9L62.0 178.5L62.5 178.9L63.0 178.2L63.5 177.3L64.0 179.1L64.5 178.2L65.0 178.6L65.5 178.5L66.0 179.7L66.5 178.6L67.0 179.6L67.5 179.1L68.0 178.7L68.5 178.6L69.0 179.9L69.5 179.9L70.0 180.1L70.5 180.8L71.0 179.9L71.5 180.0L72.0 179.8L72.5 180.0L73.0 179.7L73.5 179.4L74.0 181.2L74.5 179.0L75.0 180.3L75.5 180.4L76.0 180.3L76.5 179.7L77.0 180.2L77.5 180.0L78.0 179.7L78.5 180.3L79.0 180.2L79.5 180.1L80.0 180.9L80.5 179.9L81.0 180.8L81.5 180.2L82.0 180.9L82.5 180.7L83.0 180.8L83.5 180.1L84.0 180.3L84.5 180.3L85.0 180.9L85.5 181.3L86.0 181.5L86.5 180.6L87.0 181.0L87.5 180.0L88.0 179.7L88.5 180.5L89.0 180.6L89.5 180.1L90.0 180.0L90.5 181.4L91.0 180.6L91.5 180.1L92.0 182.5L92.5 181.2L93.0 181.0L93.5 181.6L94.0 180.7L94.5 182.2L95.0 180.3L95.5 180.5L96.0 181.2L96.5 180.8L97.0 182.1L97.5 180.3L98.0 180.9L98.5 181.5L99.0 181.7L99.5 182.0L100.0 181.6L100.5 182.7L101.0 181.1L101.5 181.5L102.0 181.9L102.5 181.2L103.0 181.2L103.5 181.1L104.0 181.0L104.5 180.7L105.0 181.0L105.5 180.5L106.0 181.6L106.5 180.4L107.0 182.6L107.5 182.4L108.0 182.0L108.5 181.2L109.0 181.0L109.5 182.1L110.0 181.5L110.5 181.7L111.0 180.9L111.5 182.0L112.0 180.9L112.5 181.5L113.0 180.4L113.5 181.0L114.0 181.8L114.5 181.2L115.0 181.2L115.5 182.0L116.0 181.5L116.5 182.3L117.0 180.2L117.5 182.0L118.0 181.9L118.5 180.7L119.0 180.7L119.5 181.7L120.0 179.9L120.5 179.2L121.0 179.2L121.5 178.4L122.0 179.4L122.5 179.6L123.0 181.2L123.5 182.2L124.0 182.0L124.5 180.6L125.0 182.3L125.5 182.0L126.0 181.5L126.5 182.9L127.0 181.0L127.5 183.2L128.0 181.7L128.5 183.1L129.0 182.1L129.5 181.4L130.0 182.2L130.5 182.4L131.0 182.5L131.5 182.9L132.0 181.7L132.5 182.5L133.0 182.6L133.5 182.0L134.0 181.5L134.5 181.5L135.0 182.5L135.5 182.5L136.0 181.5L136.5 181.1L137.0 182.6L137.5 180.9L138.0 181.9L138.5 181.3L139.0 180.7L139.5 181.7L140.0 181.5L140.5 182.4L141.0 182.9L141.5 181.4L142.0 182.1L142.5 182.0L143.0 181.0L143.5 180.8L144.0 182.2L144.5 180.9L145.0 181.1L145.5 180.9L146.0 180.9L146.5 180.5L147.0 181.3L147.5 181.5L148.0 180.5L148.5 179.8L149.0 180.3L149.5 178.8L150.0 178.4L150.5 178.3L151.0 178.0L151.5 176.8L152.0 176.7L152.5 179.0L153.0 178.2L153.5 179.7L154.0 181.3L154.5 180.9L155.0 179.6L155.5 179.5L156.0 181.0L156.5 180.4L157.0 180.1L157.5 180.7L158.0 180.1L158.5 179.1L159.0 180.5L159.5 179.5L160.0 179.6L160.5 178.9L161.0 179.3L161.5 178.2L162.0 178.5L162.5 177.4L163.0 177.5L163.5 176.0L164.0 175.1L164.5 173.6L165.0 173.5L165.5 173.7L166.0 173.9L166.5 170.0L167.0 168.9L167.5 167.9L168.0 164.1L168.5 159.6L169.0 153.8L169.5 147.2L170.0 143.6L170.5 147.0L171.0 151.9L171.5 149.5L172.0 145.1L172.5 142.0L173.0 140.5L173.5 140.1L174.0 144.3L174.5 159.7L175.0 174.7L175.5 178.2L176.0 178.5L176.5 179.4L177.0 179.1L177.5 179.2L178.0 178.5L178.5 178.2L179.0 178.3L179.5 177.9L180.0 178.0L180.5 178.2L181.0 178.2L181.5 179.3L182.0 178.0L182.5 178.9L183.0 178.7L183.5 180.1L184.0 179.5L184.5 179.3L185.0 180.2L185.5 179.9L186.0 179.6L186.5 180.7L187.0 180.1L187.5 180.6L188.0 180.1L188.5 179.7L189.0 179.1L189.5 178.3L190.0 179.2L190.5 178.6L191.0 178.9L191.5 178.3L192.0 177.6L192.5 176.7L193.0 176.6L193.5 175.2L194.0 172.2L194.5 170.8L195.0 170.5L195.5 169.6L196.0 171.5L196.5 173.1L197.0 176.4L197.5 177.4L198.0 177.8L198.5 177.6L199.0 178.7L199.5 179.5L200.0 178.8L200.5 178.8L201.0 179.6L201.5 178.6L202.0 179.5L202.5 180.0L203.0 179.3L203.5 179.4L204.0 180.0L204.5 179.8L205.0 179.5L205.5 179.6L206.0 179.4L206.5 178.6L207.0 178.6L207.5 179.1L208.0 179.3L208.5 179.3L209.0 177.8L209.5 178.8L210.0 178.5L210.5 178.0L211.0 178.4L211.5 178.6L212.0 179.2L212.5 177.6L213.0 178.6L213.5 178.2L214.0 178.2L214.5 179.1L215.0 178.9L215.5 177.9L216.0 178.3L216.5 178.7L217.0 177.8L217.5 179.2L218.0 178.6L218.5 178.8L219.0 178.9L219.5 179.7L220.0 178.6L220.5 178.3L221.0 179.3L221.5 177.6L222.0 177.1L222.5 176.0L223.0 177.0L223.5 176.3L224.0 176.6L224.5 176.9L225.0 177.3L225.5 177.5L226.0 177.8L226.5 178.8L227.0 178.7L227.5 179.6L228.0 178.2L228.5 178.4L229.0 178.1L229.5 179.5L230.0 178.0L230.5 179.1L231.0 179.5L231.5 178.6L232.0 179.1L232.5 177.4L233.0 178.5L233.5 177.7L234.0 178.8L234.5 178.7L235.0 178.3L235.5 179.3L236.0 179.0L236.5 178.4L237.0 178.4L237.5 177.9L238.0 178.7L238.5 180.0L239.0 178.4L239.5 179.0L240.0 178.4L240.5 179.2L241.0 178.8L241.5 177.8L242.0 175.7L242.5 174.5L243.0 173.1L243.5 170.3L244.0 170.3L244.5 170.8L245.0 172.3L245.5 176.0L246.0 177.6L246.5 178.0L247.0 178.5L247.5 179.1L248.0 178.6L248.5 179.2L249.0 178.8L249.5 177.4L250.0 178.4L250.5 177.4L251.0 176.2L251.5 176.0L252.0 175.3L252.5 176.8L253.0 178.3L253.5 178.6L254.0 178.0L254.5 178.7L255.0 179.6L255.5 178.8L256.0 178.0L256.5 177.5L257.0 176.9L257.5 176.4L258.0 177.1L258.5 177.2L259.0 178.4L259.5 178.9L260.0 179.2L260.5 178.1L261.0 179.2L261.5 178.6L262.0 180.2L262.5 180.3L263.0 180.5L263.5 180.0L264.0 179.3L264.5 180.1L265.0 179.5L265.5 180.0L266.0 179.2L266.5 179.4L267.0 180.0L267.5 180.9L268.0 179.8L268.5 181.2L269.0 181.5L269.5 179.2L270.0 180.0L270.5 179.4L271.0 179.9L271.5 179.7L272.0 179.9L272.5 180.5L273.0 180.5L273.5 180.0L274.0 179.6L274.5 179.2L275.0 178.3L275.5 177.5L276.0 176.5L276.5 176.9L277.0 176.6L277.5 178.9L278.0 180.3L278.5 179.8L279.0 178.9L279.5 180.5L280.0 179.2L280.5 177.2L281.0 178.5L281.5 178.9L282.0 179.0L282.5 180.0L283.0 180.2L283.5 180.3L284.0 179.3L284.5 180.0L285.0 180.9L285.5 181.3L286.0 180.3L286.5 180.6L287.0 181.3L287.5 179.9L288.0 179.8L288.5 180.9L289.0 181.1L289.5 180.7L290.0 179.6L290.5 180.8L291.0 179.7L291.5 180.2L292.0 179.0L292.5 178.6L293.0 178.7L293.5 178.4L294.0 179.8L294.5 180.6L295.0 180.3L295.5 180.7L296.0 179.2L296.5 179.6L297.0 178.5L297.5 176.8L298.0 176.4L298.5 175.3L299.0 174.7L299.5 174.8L300.0 175.6L300.5 175.3L301.0 176.3L301.5 175.7L302.0 175.5L302.5 172.0L303.0 165.4L303.5 161.0L304.0 162.7L304.5 169.2L305.0 175.8L305.5 178.0L306.0 178.6L306.5 179.2L307.0 176.8L307.5 177.6L308.0 176.0L308.5 178.5L309.0 179.1L309.5 181.1L310.0 181.0L310.5 181.9L311.0 182.0L311.5 182.0L312.0 182.7L312.5 183.4L313.0 182.1L313.5 183.0L314.0 182.5L314.5 182.4L315.0 183.7L315.5 181.1L316.0 182.0L316.5 181.3L317.0 182.2L317.5 182.2L318.0 184.6L318.5 182.5L319.0 183.4L319.5 183.1L320.0 182.0L320.5 182.6L321.0 183.4L321.5 182.5L322.0 182.6L322.5 182.8L323.0 181.6L323.5 182.1L324.0 182.8L324.5 182.9L325.0 182.1L325.5 182.5L326.0 182.6L326.5 182.7L327.0 183.2L327.5 182.9L328.0 183.0L328.5 182.0L329.0 182.3L329.5 183.1L330.0 182.0L330.5 182.9L331.0 182.2L331.5 181.8L332.0 182.4L332.5 181.3L333.0 180.9L333.5 180.5L334.0 180.4L334.5 181.5L335.0 178.2L335.5 179.2L336.0 179.0L336.5 179.9L337.0 179.4L337.5 178.5L338.0 181.1L338.5 179.8L339.0 180.6L339.5 179.9L340.0 180.2L340.5 180.6L341.0 181.4L341.5 181.5L342.0 180.6L342.5 181.3L343.0 180.8L343.5 181.0L344.0 180.9L344.5 181.0L345.0 180.1L345.5 180.2L346.0 180.2L346.5 179.8L347.0 179.0L347.5 180.0L348.0 178.2L348.5 178.3L349.0 177.1L349.5 176.6L350.0 173.0L350.5 173.4L351.0 169.0L351.5 164.1L352.0 158.8L352.5 151.1L353.0 136.6L353.5 115.2L354.0 85.6L354.5 46.7L355.0 8.9L355.5 5.4L356.0 37.4L356.5 79.8L357.0 110.6L357.5 133.6L358.0 147.0L358.5 156.6L359.0 164.3L359.5 168.6L360.0 170.3L360.5 174.0L361.0 175.6L361.5 176.0L362.0 177.3L362.5 177.9L363.0 177.8L363.5 177.7L364.0 177.6L364.5 178.0L365.0 177.9L365.5 179.5L366.0 179.5L366.5 181.1L367.0 181.3L367.5 180.9L368.0 182.0L368.5 182.6L369.0 182.2L369.5 180.6L370.0 182.1L370.5 181.4L371.0 181.2L371.5 180.9L372.0 181.2L372.5 182.0L373.0 181.5L373.5 180.8L374.0 180.7L374.5 180.8L375.0 181.4L375.5 182.2L376.0 180.7L376.5 181.5L377.0 181.4L377.5 181.3L378.0 182.2L378.5 182.4L379.0 181.4L379.5 181.8L380.0 183.3L380.5 182.9L381.0 183.1L381.5 182.5L382.0 182.5L382.5 182.9L383.0 182.2L383.5 181.8L384.0 182.3L384.5 182.8L385.0 181.5L385.5 182.7L386.0 182.4L386.5 181.3L387.0 181.8L387.5 181.6L388.0 182.0L388.5 182.1L389.0 181.0L389.5 181.0L390.0 182.5L390.5 182.0L391.0 182.3L391.5 182.3L392.0 183.0L392.5 181.2L393.0 182.0L393.5 179.6L394.0 178.5L394.5 176.2L395.0 172.5L395.5 173.2L396.0 174.4L396.5 176.7L397.0 179.0L397.5 179.4L398.0 179.9L398.5 180.9L399.0 180.9L399.5 180.0L400.0 179.3L400.5 181.5L401.0 180.8L401.5 180.2L402.0 179.3L402.5 179.1L403.0 178.7L403.5 176.5L404.0 176.2L404.5 174.0L405.0 173.8L405.5 173.2L406.0 173.1L406.5 172.2L407.0 172.0L407.5 171.9L408.0 173.4L408.5 175.5L409.0 176.6L409.5 177.3L410.0 175.4L410.5 173.1L411.0 170.8L411.5 167.2L412.0 159.0L412.5 148.7L413.0 134.2L413.5 122.8L414.0 124.3L414.5 137.0L415.0 151.2L415.5 161.8L416.0 168.3L416.5 172.4L417.0 175.1L417.5 176.3L418.0 177.6L418.5 179.5L419.0 179.1L419.5 180.5L420.0 180.0L420.5 181.4L421.0 181.6L421.5 181.7L422.0 183.1L422.5 182.6L423.0 183.2L423.5 183.5L424.0 183.3L424.5 184.5L425.0 183.2L425.5 183.3L426.0 182.2L426.5 182.4L427.0 182.3L427.5 182.0L428.0 181.7L428.5 182.0L429.0 182.7L429.5 181.4L430.0 180.9L430.5 180.0L431.0 181.1L431.5 180.1L432.0 179.5L432.5 180.1L433.0 180.1L433.5 181.3L434.0 182.2L434.5 182.7L435.0 182.4L435.5 182.7L436.0 183.5L436.5 183.4L437.0 181.8L437.5 182.7L438.0 182.6L438.5 180.6L439.0 180.6L439.5 179.6L440.0 181.6L440.5 181.4L441.0 182.3L441.5 183.5L442.0 185.5L442.5 183.9L443.0 183.6L443.5 184.6L444.0 184.5L444.5 185.3L445.0 183.6L445.5 183.4L446.0 184.2L446.5 184.6L447.0 184.6L447.5 185.1L448.0 183.6L448.5 184.0L449.0 184.4L449.5 184.9L450.0 184.5L450.5 183.9L451.0 183.4L451.5 184.5L452.0 184.4L452.5 185.3L453.0 183.5L453.5 184.5L454.0 182.7L454.5 183.0L455.0 182.9L455.5 183.0L456.0 182.9L456.5 183.1L457.0 183.5L457.5 183.4L458.0 184.1L458.5 183.8L459.0 183.9L459.5 184.9L460.0 184.3L460.5 184.3L461.0 184.3L461.5 184.4L462.0 184.8L462.5 184.0L463.0 185.2L463.5 185.5L464.0 185.3L464.5 184.4L465.0 183.8L465.5 184.5L466.0 184.9L466.5 185.3L467.0 184.7L467.5 184.7L468.0 185.8L468.5 184.6L469.0 185.5L469.5 185.2L470.0 183.6L470.5 184.3L471.0 183.5L471.5 182.9L472.0 182.0L472.5 181.8L473.0 182.5L473.5 181.6L474.0 181.7L474.5 180.8L475.0 181.3L475.5 181.5L476.0 180.9L476.5 180.9L477.0 182.3L477.5 182.2L478.0 181.6L478.5 182.1L479.0 182.5L479.5 183.2L480.0 181.6L480.5 182.4L481.0 183.3L481.5 182.1L482.0 182.9L482.5 180.5L483.0 183.0L483.5 182.4L484.0 181.7L484.5 183.6L485.0 184.2L485.5 184.7L486.0 185.1L486.5 184.8L487.0 184.6L487.5 185.0L488.0 185.2L488.5 185.5L489.0 185.1L489.5 185.4L490.0 185.9L490.5 185.6L491.0 186.8L491.5 186.8L492.0 184.9L492.5 185.3L493.0 184.9L493.5 185.0L494.0 186.0L494.5 185.2L495.0 185.2L495.5 185.7L496.0 186.3L496.5 185.6L497.0 185.6L497.5 186.3L498.0 186.0L498.5 185.9L499.0 186.1L499.5 184.9L500.0 185.6L500.5 185.1L501.0 186.0L501.5 185.8L502.0 184.7L502.5 186.0L503.0 184.5L503.5 185.8L504.0 185.2L504.5 184.5L505.0 184.3L505.5 184.8L506.0 184.9L506.5 184.5L507.0 185.2L507.5 184.0L508.0 184.8L508.5 184.7L509.0 183.6L509.5 184.8L510.0 183.9L510.5 183.1L511.0 184.2L511.5 184.4L512.0 185.0L512.5 184.1L513.0 185.3L513.5 185.2L514.0 185.0L514.5 185.1L515.0 184.4L515.5 183.9L516.0 184.5L516.5 184.7L517.0 184.2L517.5 183.9L518.0 183.1L518.5 184.4L519.0 184.1L519.5 183.1L520.0 183.9L520.5 184.2L521.0 183.7L521.5 184.2L522.0 184.2L522.5 182.8L523.0 183.5L523.5 183.9L524.0 184.1L524.5 184.4L525.0 182.4L525.5 183.5L526.0 183.9L526.5 184.2L527.0 184.5L527.5 183.0L528.0 183.3L528.5 182.9L529.0 184.0L529.5 182.8L530.0 184.3L530.5 184.1L531.0 183.9L531.5 182.3L532.0 183.2L532.5 184.1L533.0 182.8L533.5 183.5L534.0 183.6L534.5 184.2L535.0 183.8L535.5 183.9L536.0 183.4L536.5 183.7L537.0 183.6L537.5 184.2L538.0 183.6L538.5 184.4L539.0 182.8L539.5 184.5L540.0 183.7L540.5 184.5L541.0 183.9L541.5 184.3L542.0 184.7L542.5 183.5L543.0 183.9L543.5 183.8L544.0 184.0L544.5 182.9L545.0 183.8L545.5 183.7L546.0 183.4L546.5 183.8L547.0 183.0L547.5 184.8L548.0 184.2L548.5 185.1L549.0 183.4L549.5 183.3L550.0 184.1L550.5 183.0L551.0 184.1L551.5 183.6L552.0 183.8L552.5 184.2L553.0 184.0L553.5 185.1L554.0 184.4L554.5 183.2L555.0 184.6L555.5 183.2L556.0 184.1L556.5 183.3L557.0 183.5L557.5 184.8L558.0 183.7L558.5 183.7L559.0 183.7L559.5 183.9L560.0 184.9L560.5 183.4L561.0 183.3L561.5 184.4L562.0 183.1L562.5 183.9L563.0 184.8L563.5 184.1L564.0 183.8L564.5 183.7L565.0 183.6L565.5 183.7L566.0 184.2L566.5 184.8L567.0 184.7L567.5 183.8L568.0 183.7L568.5 184.5L569.0 183.0L569.5 183.9L570.0 183.9L570.5 183.5L571.0 183.6L571.5 184.3L572.0 183.2L572.5 183.6L573.0 183.8L573.5 184.2L574.0 183.3L574.5 184.8L575.0 184.0L575.5 184.0L576.0 183.9L576.5 183.8L577.0 183.6L577.5 184.8L578.0 184.3L578.5 184.1L579.0 184.7L579.5 183.7L580.0 184.5L580.5 184.1L581.0 183.6L581.5 184.5L582.0 183.2L582.5 184.5L583.0 183.6L583.5 184.3L584.0 184.9L584.5 184.4L585.0 183.7L585.5 184.0L586.0 183.8L586.5 183.4L587.0 183.4L587.5 184.1L588.0 184.3L588.5 183.0L589.0 184.0L589.5 184.3L590.0 184.1L590.5 183.4L591.0 184.6L591.5 183.3L592.0 184.4L592.5 184.9L593.0 182.8L593.5 184.1L594.0 184.1L594.5 184.1L595.0 183.5L595.5 183.7L596.0 183.1L596.5 183.9L597.0 184.1L597.5 183.4L598.0 183.2L598.5 183.3L599.0 183.4L599.5 183.3L600.0 182.9L600.5 182.6L601.0 181.1L601.5 179.4L602.0 179.9L602.5 178.2L603.0 172.9L603.5 167.4L604.0 159.8L604.5 153.9L605.0 156.8L605.5 165.5L606.0 171.7L606.5 176.4L607.0 179.2L607.5 180.4L608.0 182.4L608.5 182.8L609.0 183.6L609.5 183.1L610.0 184.2L610.5 183.2L611.0 184.2L611.5 182.5L612.0 183.6L612.5 184.6L613.0 184.0L613.5 184.4L614.0 183.4L614.5 185.3L615.0 184.7L615.5 184.4L616.0 184.7L616.5 184.6L617.0 185.3L617.5 184.6L618.0 183.6L618.5 184.4L619.0 185.3L619.5 184.9L620.0 184.3L620.5 184.9L621.0 184.7L621.5 185.0L622.0 183.7L622.5 184.1L623.0 185.0L623.5 184.5L624.0 184.9L624.5 185.8L625.0 184.5L625.5 184.9L626.0 184.4L626.5 184.4L627.0 184.7L627.5 183.9L628.0 183.5L628.5 185.6L629.0 184.7L629.5 185.5L630.0 184.9L630.5 184.9L631.0 185.2L631.5 185.2L632.0 184.1L632.5 185.6L633.0 184.3L633.5 185.0L634.0 186.4L634.5 184.9L635.0 185.9L635.5 184.7L636.0 185.3L636.5 184.9L637.0 185.2L637.5 184.4L638.0 184.4L638.5 185.1L639.0 184.0L639.5 184.5L640.0 185.3L640.5 184.6L641.0 184.5L641.5 184.3L642.0 185.1L642.5 184.8L643.0 185.1L643.5 184.9L644.0 186.1L644.5 184.8L645.0 183.9L645.5 185.1L646.0 185.1L646.5 185.2L647.0 184.1L647.5 185.7L648.0 185.1L648.5 185.1L649.0 184.2L649.5 185.4L650.0 185.1L650.5 185.9L651.0 184.9L651.5 184.4L652.0 185.2L652.5 184.6L653.0 185.4L653.5 184.5L654.0 185.1L654.5 185.1L655.0 185.2L655.5 184.9L656.0 184.7L656.5 185.2L657.0 184.9L657.5 185.3" stroke="#000080" stroke-width="3.3"/>
</g>
<g fill="#000" stroke="none">
<rect x="354.8" y="175.5" width="2" height="24.6"/>
<path d="M350.6 199.1L361.0 199.1L355.8 213.0Z"/>
<rect x="413.1" y="184.7" width="2" height="24.8"/>
<path d="M408.9 208.5L419.3 208.5L414.1 222.5Z"/>
<rect x="603.9" y="189.7" width="2" height="24.6"/>
<path d="M599.7 213.3L610.1 213.3L604.9 227.4Z"/>
<rect x="355.0" y="232.4" width="2" height="24.3"/>
<path d="M350.8 255.7L361.2 255.7L356.0 269.4Z"/>
<rect x="413.1" y="244.5" width="2" height="24.6"/>
<path d="M408.9 268.1L419.3 268.1L414.1 281.8Z"/>
<rect x="603.2" y="254.0" width="2" height="23.9"/>
<path d="M599.0 276.9L609.4 276.9L604.2 291.1Z"/>
<rect x="353.8" y="297.4" width="2" height="24.7"/>
<path d="M349.6 321.1L360.0 321.1L354.8 334.8Z"/>
<rect x="412.6" y="305.5" width="2" height="24.7"/>
<path d="M408.4 329.2L418.8 329.2L413.6 342.9Z"/>
<rect x="603.2" y="312.8" width="2" height="24.6"/>
<path d="M599.0 336.4L609.4 336.4L604.2 351.0Z"/>
</g>
<g stroke="#000" stroke-width="3.8" fill="none" stroke-linecap="round" stroke-linejoin="round">
<rect stroke-linejoin="miter" x="42.6" y="3.45" width="615.2" height="495.1"/>
<path d="M42.6 498.6V504.0M89.9 498.6V510.4M137.2 498.6V504.0M184.6 498.6V510.4M231.9 498.6V504.0M279.2 498.6V510.4M326.5 498.6V504.0M373.9 498.6V510.4M421.2 498.6V504.0M468.5 498.6V510.4M515.8 498.6V504.0M563.2 498.6V510.4M610.5 498.6V504.0M657.8 498.6V510.4"/>
</g>
<g font-family="Liberation Serif" font-weight="bold" fill="#000" stroke="#000" stroke-width="0.6" stroke-linejoin="round">
<text transform="translate(89.92 537.2) scale(0.965 1)" font-size="24.5" text-anchor="middle">10</text>
<text transform="translate(184.57 537.2) scale(0.965 1)" font-size="24.5" text-anchor="middle">20</text>
<text transform="translate(279.22 537.2) scale(0.965 1)" font-size="24.5" text-anchor="middle">30</text>
<text transform="translate(373.86 537.2) scale(0.965 1)" font-size="24.5" text-anchor="middle">40</text>
<text transform="translate(468.51 537.2) scale(0.965 1)" font-size="24.5" text-anchor="middle">50</text>
<text transform="translate(563.15 537.2) scale(0.965 1)" font-size="24.5" text-anchor="middle">60</text>
<text transform="translate(657.80 537.2) scale(0.965 1)" font-size="24.5" text-anchor="middle">70</text>
<text x="283.8" y="577" font-size="26" xml:space="preserve" style="white-space:pre">2θ  (degree)</text>
<text transform="translate(21.6 368.5) rotate(-90)" font-size="26">Intensity (a. u.)</text>
<text x="302.4" y="54.0" font-size="21">(111)</text>
<text x="390.3" y="107.7" font-size="21">(200)</text>
<text x="583.5" y="137.4" font-size="21">(220)</text>
</g>
<g font-family="Liberation Serif" font-weight="bold" font-size="23" stroke-width="0.5" stroke-linejoin="round">
<text x="502.2" y="170.9" fill="#000080" stroke="#000080">Ag NPs</text>
<text x="503.0" y="223.6" fill="#008000" stroke="#008000">PCPP4</text>
<text x="504.0" y="286.3" fill="#ff00ff" stroke="#ff00ff">PCPP3</text>
<text x="506.1" y="347.5" fill="#0000ff" stroke="#0000ff">PCPP2</text>
<text x="508.1" y="409.3" fill="#ff0000" stroke="#ff0000">PCPP1</text>
<text x="508.1" y="474.9" fill="#000000" stroke="#000000">PCPP0</text>
</g>
</svg>
</body></html>
